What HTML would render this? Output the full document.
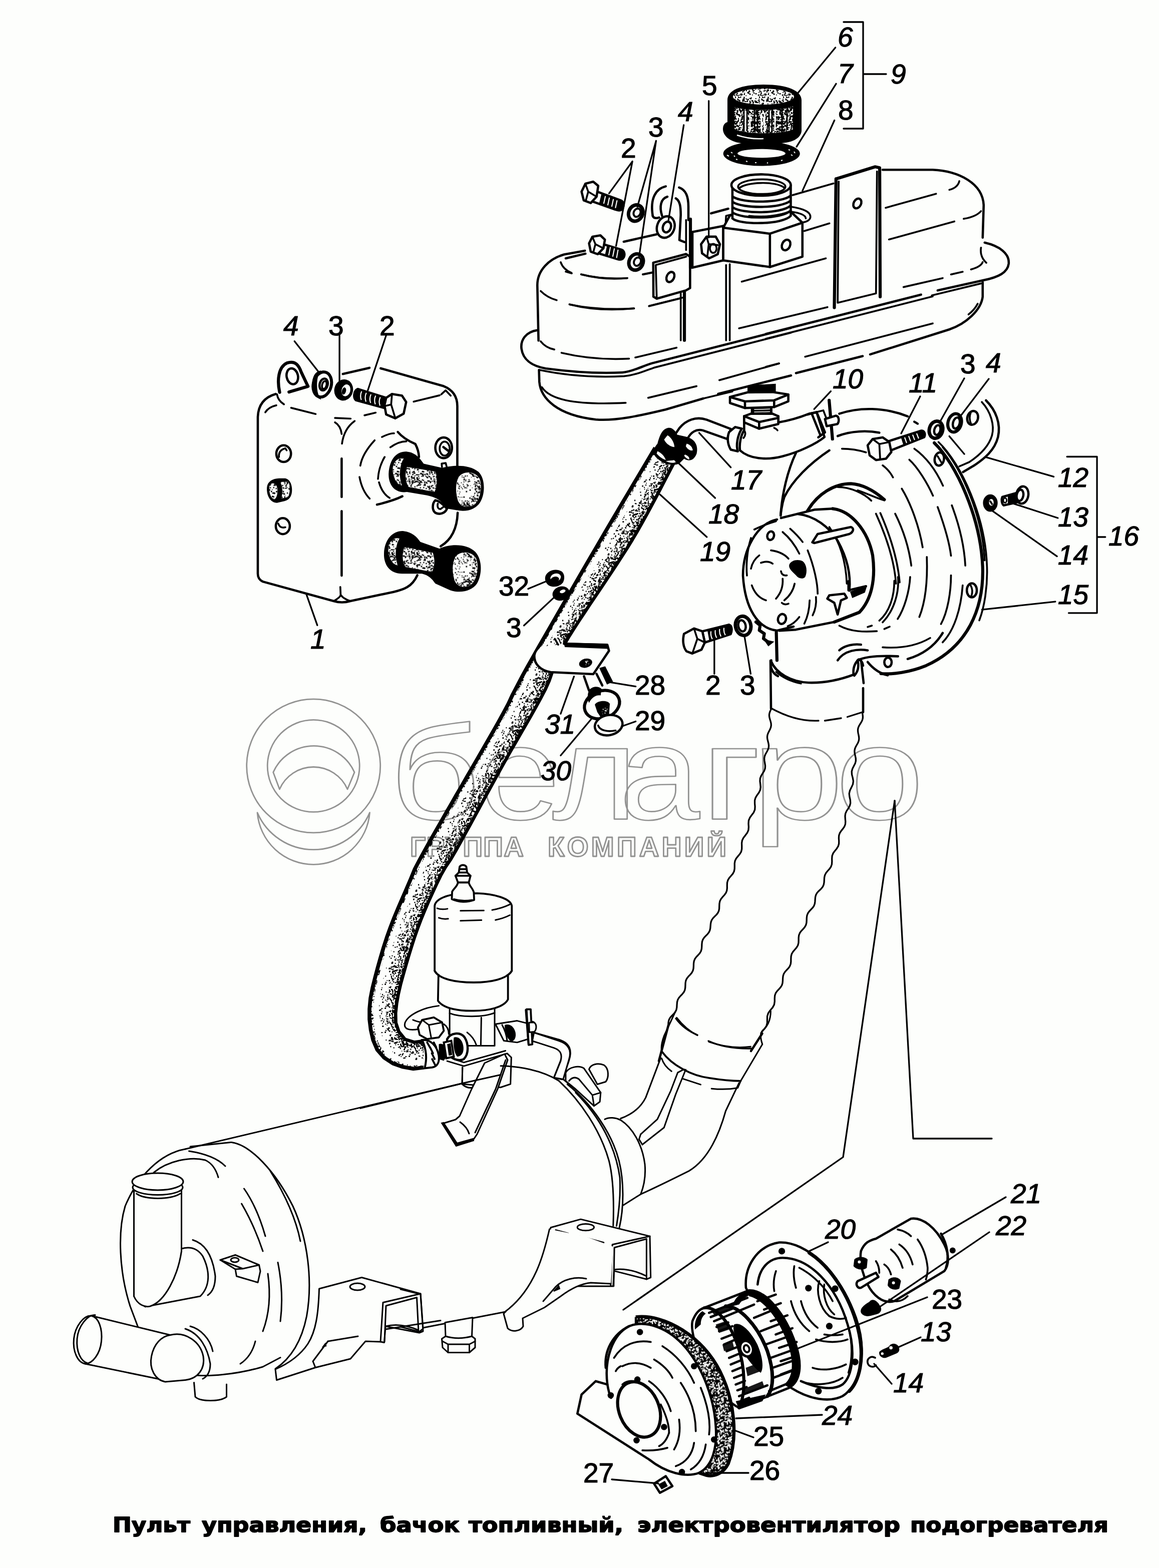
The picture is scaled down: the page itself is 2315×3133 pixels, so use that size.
<!DOCTYPE html>
<html lang="ru"><head><meta charset="utf-8"><title>Пульт управления, бачок топливный, электровентилятор подогревателя</title>
<style>
html,body{margin:0;padding:0;background:#fdfefc;}
body{width:2315px;height:3133px;overflow:hidden;position:relative;}
svg{position:absolute;left:0;top:0;display:block;}
svg *{vector-effect:non-scaling-stroke;}
.k{fill:none;stroke:#000;stroke-width:4.6;stroke-linecap:round;stroke-linejoin:round;}
.h{fill:none;stroke:#000;stroke-width:6.2;stroke-linecap:round;stroke-linejoin:round;}
.m{fill:none;stroke:#000;stroke-width:3.7;stroke-linecap:round;stroke-linejoin:round;}
.n{fill:none;stroke:#000;stroke-width:3.3;stroke-linecap:round;stroke-linejoin:round;}
.t{fill:none;stroke:#000;stroke-width:3.3;stroke-linecap:round;stroke-linejoin:round;}
.lbl text.u{font-style:normal;}
.w{fill:#fdfefc;}
#heaterR .m,#heaterL .m,#heaterB .m,#pump .m,#pumpleg .m{stroke-width:3.0;}
#heaterR .k,#heaterL .k,#pump .k{stroke-width:3.8;}
#corr .m{stroke-width:3.3;}
.b{fill:#000;}
.lbl text{font-family:"Liberation Sans",Arial,sans-serif;font-style:italic;font-size:55px;fill:#000;stroke:#000;stroke-width:1.2;}
.cap{font-family:"DejaVu Sans",Verdana,sans-serif;font-weight:bold;fill:#000;}
.wm{fill:none;stroke:#c8c8c8;stroke-width:3;stroke-linejoin:round;stroke-linecap:round;}
</style></head>
<body>
<svg width="2315" height="3133" viewBox="0 0 2315 3133">
<!-- 00_defs.svg -->
<defs><pattern id="st1" width="150" height="150" patternUnits="userSpaceOnUse"><path d="M49,23h7v7h-7zM11,80h5v5h-5zM9,76h4v4h-4zM65,10h4v4h-4zM64,124h4v4h-4zM33,94h8v8h-8zM87,60h8v8h-8zM7,129h5v5h-5zM22,18h5v5h-5zM122,27h6v6h-6zM96,56h6v6h-6zM9,9h5v5h-5zM102,64h5v5h-5zM88,68h5v5h-5zM119,105h5v5h-5zM86,79h8v8h-8zM109,43h8v8h-8zM18,63h7v7h-7zM23,73h4v4h-4zM100,115h6v6h-6zM131,47h7v7h-7zM89,87h6v6h-6zM126,142h6v6h-6zM100,9h7v7h-7zM97,149h7v7h-7zM43,58h7v7h-7zM3,69h5v5h-5zM18,9h7v7h-7zM19,37h6v6h-6zM131,12h6v6h-6zM82,133h7v7h-7zM130,42h6v6h-6zM54,133h8v8h-8zM23,26h5v5h-5zM35,73h6v6h-6zM39,1h6v6h-6zM55,85h8v8h-8zM104,77h6v6h-6zM101,8h8v8h-8zM117,131h7v7h-7zM59,60h4v4h-4zM95,9h4v4h-4zM31,24h5v5h-5zM8,0h5v5h-5zM15,55h4v4h-4zM131,92h5v5h-5zM38,52h5v5h-5zM18,127h8v8h-8zM70,73h4v4h-4zM15,51h5v5h-5zM124,24h4v4h-4zM143,79h5v5h-5zM81,4h6v6h-6zM147,129h7v7h-7zM39,55h5v5h-5zM116,80h7v7h-7zM49,33h7v7h-7zM148,128h7v7h-7zM123,111h5v5h-5zM78,53h4v4h-4zM4,42h5v5h-5zM104,143h6v6h-6zM141,148h8v8h-8zM55,33h5v5h-5zM30,31h6v6h-6zM135,126h6v6h-6zM98,120h4v4h-4zM99,136h7v7h-7zM113,72h5v5h-5zM118,50h7v7h-7zM146,59h6v6h-6zM142,109h5v5h-5zM19,23h8v8h-8zM121,22h7v7h-7zM147,99h5v5h-5zM82,20h4v4h-4zM146,97h6v6h-6zM140,65h7v7h-7zM124,32h5v5h-5zM44,36h6v6h-6zM39,63h5v5h-5zM137,53h6v6h-6zM88,136h6v6h-6zM138,75h6v6h-6zM79,3h6v6h-6zM27,1h7v7h-7zM26,71h7v7h-7zM83,49h6v6h-6zM83,118h4v4h-4zM84,37h5v5h-5z" fill="#000"/></pattern><pattern id="st2" width="150" height="150" patternUnits="userSpaceOnUse"><path d="M116,76h7v7h-7zM114,137h7v7h-7zM92,76h7v7h-7zM104,68h7v7h-7zM72,141h8v8h-8zM131,141h6v6h-6zM84,141h8v8h-8zM21,18h7v7h-7zM11,36h5v5h-5zM100,118h9v9h-9zM23,107h8v8h-8zM21,132h9v9h-9zM33,143h7v7h-7zM73,148h8v8h-8zM24,65h7v7h-7zM51,29h6v6h-6zM108,3h7v7h-7zM66,3h6v6h-6zM94,77h5v5h-5zM148,118h9v9h-9zM16,40h5v5h-5zM117,41h6v6h-6zM63,137h8v8h-8zM39,22h9v9h-9zM86,105h5v5h-5zM9,103h7v7h-7zM11,141h8v8h-8zM120,13h8v8h-8zM10,129h7v7h-7zM51,83h9v9h-9zM40,19h7v7h-7zM36,16h6v6h-6zM8,30h6v6h-6zM46,114h6v6h-6zM75,27h6v6h-6zM3,38h5v5h-5zM110,83h6v6h-6zM71,140h5v5h-5zM123,65h7v7h-7zM125,59h7v7h-7zM103,147h6v6h-6zM125,106h8v8h-8zM61,52h5v5h-5zM19,11h8v8h-8zM38,24h5v5h-5zM126,131h8v8h-8zM42,36h6v6h-6zM69,24h7v7h-7zM39,144h9v9h-9zM82,37h9v9h-9zM46,53h5v5h-5zM57,71h7v7h-7zM30,76h5v5h-5zM40,13h7v7h-7zM6,3h6v6h-6zM35,88h7v7h-7zM113,99h8v8h-8zM132,58h6v6h-6zM148,22h8v8h-8zM96,7h8v8h-8zM134,94h8v8h-8zM122,21h7v7h-7zM76,125h8v8h-8zM124,88h9v9h-9zM102,104h6v6h-6zM5,20h6v6h-6zM16,125h7v7h-7zM94,94h8v8h-8zM73,0h8v8h-8zM112,75h7v7h-7zM99,10h8v8h-8zM38,11h6v6h-6zM109,31h8v8h-8zM146,74h7v7h-7zM72,103h8v8h-8zM93,96h5v5h-5zM22,38h8v8h-8zM46,85h5v5h-5zM9,40h8v8h-8zM104,101h6v6h-6zM77,70h7v7h-7zM18,134h6v6h-6zM147,140h5v5h-5zM69,123h9v9h-9zM67,40h6v6h-6zM142,32h7v7h-7zM21,79h9v9h-9zM20,123h7v7h-7zM133,106h6v6h-6zM135,73h5v5h-5zM1,74h7v7h-7zM45,21h6v6h-6zM47,126h5v5h-5zM113,126h5v5h-5zM139,107h9v9h-9zM43,56h7v7h-7zM150,88h6v6h-6zM64,41h5v5h-5zM15,125h6v6h-6zM140,37h6v6h-6zM77,28h6v6h-6zM143,133h8v8h-8zM95,137h9v9h-9zM82,108h5v5h-5zM110,68h8v8h-8zM97,43h5v5h-5zM139,19h7v7h-7zM52,45h8v8h-8zM146,39h8v8h-8zM45,84h7v7h-7zM25,24h6v6h-6zM136,75h6v6h-6zM136,149h7v7h-7zM21,29h5v5h-5zM51,14h6v6h-6zM39,85h9v9h-9zM112,62h7v7h-7zM79,57h6v6h-6zM9,42h9v9h-9zM19,76h8v8h-8zM129,32h6v6h-6zM37,60h7v7h-7zM143,127h8v8h-8zM3,5h8v8h-8zM134,71h7v7h-7zM0,59h9v9h-9zM124,128h9v9h-9zM37,16h6v6h-6zM78,102h9v9h-9zM108,97h8v8h-8zM69,83h5v5h-5zM117,35h9v9h-9zM97,46h6v6h-6zM38,95h8v8h-8zM17,11h7v7h-7zM87,58h6v6h-6zM90,2h6v6h-6zM69,144h8v8h-8zM133,71h6v6h-6zM37,144h8v8h-8zM46,3h7v7h-7zM101,63h6v6h-6zM100,139h6v6h-6zM5,51h7v7h-7zM102,30h8v8h-8zM111,76h6v6h-6zM145,47h8v8h-8zM35,33h8v8h-8zM44,143h7v7h-7zM28,33h7v7h-7zM100,142h6v6h-6zM59,32h9v9h-9zM21,8h5v5h-5zM59,135h9v9h-9zM110,150h9v9h-9zM49,28h9v9h-9zM112,5h8v8h-8zM57,56h6v6h-6zM25,0h6v6h-6zM53,143h5v5h-5zM145,31h6v6h-6zM123,123h7v7h-7zM7,71h6v6h-6zM138,29h6v6h-6zM135,5h7v7h-7zM122,115h5v5h-5zM5,9h9v9h-9zM39,112h9v9h-9zM51,41h9v9h-9zM93,39h8v8h-8zM47,41h5v5h-5zM113,137h8v8h-8zM141,4h6v6h-6zM71,144h9v9h-9zM58,38h7v7h-7zM74,139h6v6h-6zM120,111h8v8h-8zM116,91h6v6h-6zM48,54h8v8h-8zM12,30h8v8h-8zM37,10h5v5h-5zM83,49h9v9h-9zM133,148h6v6h-6zM13,14h7v7h-7zM106,67h6v6h-6zM63,93h8v8h-8zM112,127h8v8h-8zM18,126h6v6h-6zM85,56h8v8h-8zM30,37h6v6h-6z" fill="#000"/></pattern><pattern id="stw" width="150" height="150" patternUnits="userSpaceOnUse"><path d="M23,133h6v6h-6zM49,59h7v7h-7zM76,35h6v6h-6zM98,149h4v4h-4zM71,123h7v7h-7zM137,6h5v5h-5zM18,28h7v7h-7zM87,140h5v5h-5zM130,67h5v5h-5zM117,142h4v4h-4zM89,93h5v5h-5zM55,21h5v5h-5zM38,90h6v6h-6zM31,2h5v5h-5zM102,28h5v5h-5zM31,119h6v6h-6zM9,15h5v5h-5zM83,96h4v4h-4zM25,104h5v5h-5zM42,46h7v7h-7zM47,85h5v5h-5zM62,130h7v7h-7zM55,30h6v6h-6zM31,1h7v7h-7zM64,123h5v5h-5zM132,69h4v4h-4zM2,83h6v6h-6zM136,13h6v6h-6zM56,76h4v4h-4zM42,78h7v7h-7zM16,74h6v6h-6zM145,30h4v4h-4zM141,146h5v5h-5zM8,139h5v5h-5zM136,93h6v6h-6zM24,118h5v5h-5zM61,127h6v6h-6zM27,33h5v5h-5zM78,58h4v4h-4zM37,109h7v7h-7zM6,84h6v6h-6zM6,126h4v4h-4zM90,83h6v6h-6zM46,63h6v6h-6zM64,99h5v5h-5zM66,4h6v6h-6zM73,35h6v6h-6zM117,69h5v5h-5zM71,16h4v4h-4zM65,14h5v5h-5zM77,6h6v6h-6zM12,110h6v6h-6zM77,8h6v6h-6zM57,143h4v4h-4zM129,149h6v6h-6zM122,29h7v7h-7zM74,143h7v7h-7zM25,118h7v7h-7zM10,53h6v6h-6zM24,134h5v5h-5zM122,22h6v6h-6zM138,31h5v5h-5zM76,48h4v4h-4zM27,24h7v7h-7zM102,134h5v5h-5zM118,17h6v6h-6zM95,54h7v7h-7zM83,87h7v7h-7zM16,149h6v6h-6zM59,120h5v5h-5z" fill="#fdfefc"/></pattern><pattern id="stw2" width="150" height="150" patternUnits="userSpaceOnUse"><path d="M68,84h10v7h-10zM76,88h6v8h-6zM94,119h5v7h-5zM14,121h8v5h-8zM147,145h8v8h-8zM24,2h8v5h-8zM29,36h5v7h-5zM66,126h8v8h-8zM75,99h7v6h-7zM150,149h9v9h-9zM47,34h6v5h-6zM115,60h9v7h-9zM144,127h5v6h-5zM137,70h10v7h-10zM11,94h9v6h-9zM13,50h10v9h-10zM18,37h6v5h-6zM120,27h8v7h-8zM29,110h6v8h-6zM17,63h6v6h-6zM146,121h7v9h-7zM32,59h9v8h-9zM15,148h6v6h-6zM116,49h6v5h-6zM14,87h6v8h-6zM56,68h10v7h-10zM86,130h6v6h-6zM136,123h6v6h-6zM111,141h6v10h-6zM132,91h7v6h-7zM6,144h6v9h-6zM39,124h8v6h-8zM26,108h5v6h-5zM84,128h8v6h-8zM138,31h5v6h-5zM67,9h6v7h-6zM86,20h7v9h-7zM147,99h8v8h-8zM21,5h5v10h-5zM105,144h5v8h-5zM72,110h7v10h-7zM11,82h9v10h-9zM111,106h9v10h-9zM53,103h10v9h-10zM63,119h9v8h-9zM94,57h8v8h-8zM12,96h10v9h-10zM109,58h9v8h-9zM66,126h5v9h-5zM4,90h7v6h-7zM105,75h8v10h-8zM38,2h7v8h-7zM30,25h10v8h-10zM66,134h7v8h-7zM30,65h9v10h-9zM132,58h8v7h-8zM20,74h9v9h-9zM107,143h6v6h-6zM68,41h6v7h-6zM94,74h7v9h-7zM147,68h5v5h-5zM131,6h9v8h-9zM46,119h5v6h-5zM68,4h9v6h-9zM21,7h8v7h-8zM94,98h9v10h-9zM103,30h7v6h-7zM2,71h9v6h-9zM41,52h8v8h-8zM92,113h7v9h-7zM136,13h10v9h-10zM19,68h8v10h-8zM57,85h9v9h-9zM142,70h8v6h-8zM108,123h8v9h-8zM32,135h10v10h-10zM81,119h7v10h-7zM128,52h5v7h-5zM83,115h7v5h-7zM121,10h9v6h-9zM50,118h6v6h-6zM77,109h9v8h-9zM142,74h10v5h-10zM33,79h6v9h-6zM96,78h9v8h-9zM47,57h9v10h-9zM31,128h10v8h-10zM86,30h8v8h-8zM91,4h10v8h-10zM60,120h8v7h-8zM104,10h8v7h-8zM144,139h6v7h-6zM19,65h9v10h-9zM71,48h6v8h-6zM139,19h9v5h-9zM29,34h8v7h-8zM53,93h6v9h-6zM18,77h6v6h-6zM80,66h7v7h-7zM79,24h6v8h-6zM96,79h9v8h-9zM129,35h9v9h-9zM135,47h7v10h-7zM33,150h9v6h-9zM36,109h6v5h-6zM125,63h9v6h-9zM60,103h5v6h-5zM102,137h10v6h-10zM76,114h8v8h-8zM28,11h6v5h-6zM83,77h8v6h-8zM28,31h9v10h-9zM139,14h5v10h-5zM69,115h7v7h-7zM77,65h8v5h-8zM105,127h6v7h-6zM111,61h6v6h-6zM77,2h9v9h-9zM106,129h8v7h-8zM90,76h10v9h-10zM39,137h9v9h-9zM122,61h9v9h-9zM104,115h9v7h-9zM108,11h7v7h-7zM2,53h8v8h-8zM35,142h8v7h-8zM99,85h8v7h-8zM150,96h9v9h-9zM147,3h8v9h-8zM38,60h5v6h-5zM56,15h6v10h-6zM83,76h10v8h-10zM149,96h9v5h-9zM90,114h5v10h-5zM24,71h6v7h-6zM92,9h10v7h-10zM79,90h7v6h-7zM98,84h6v9h-6zM44,2h6v5h-6zM23,113h7v9h-7zM112,8h10v10h-10zM11,136h7v7h-7zM146,37h8v10h-8zM108,70h10v9h-10zM91,17h8v7h-8zM31,8h8v6h-8zM66,100h7v6h-7zM87,63h9v8h-9zM150,143h9v6h-9zM17,134h9v8h-9zM54,41h8v8h-8zM89,95h9v6h-9zM37,147h10v9h-10zM6,9h6v7h-6zM94,15h8v5h-8zM13,101h8v8h-8zM56,72h6v7h-6zM112,126h5v6h-5zM121,94h9v6h-9zM64,39h9v7h-9zM98,148h7v8h-7zM112,138h7v7h-7zM15,131h5v5h-5zM85,73h8v6h-8zM116,11h6v8h-6zM12,46h9v8h-9zM42,21h7v9h-7zM55,18h9v8h-9zM138,141h10v7h-10zM120,46h7v7h-7zM140,134h6v7h-6zM55,54h7v7h-7zM29,85h9v8h-9zM125,84h6v9h-6zM132,42h5v8h-5zM82,85h10v8h-10zM121,10h8v9h-8zM13,12h9v9h-9zM13,95h6v9h-6zM97,37h6v9h-6zM78,115h7v7h-7zM145,101h7v8h-7zM108,106h10v7h-10zM124,100h9v9h-9zM125,133h10v8h-10zM79,107h9v7h-9zM63,22h9v10h-9zM56,25h6v7h-6zM44,145h5v7h-5zM17,97h9v6h-9zM9,69h8v10h-8zM5,16h6v6h-6zM35,108h8v6h-8zM28,42h6v9h-6zM47,82h9v7h-9zM39,133h10v7h-10zM82,144h7v6h-7zM7,142h9v7h-9zM79,77h6v10h-6zM99,36h5v7h-5zM56,120h9v8h-9zM24,24h7v6h-7zM130,77h8v10h-8zM40,80h6v9h-6zM0,123h9v9h-9zM12,40h9v5h-9zM72,70h10v8h-10zM129,46h9v7h-9zM138,14h9v6h-9zM82,79h6v9h-6zM47,47h5v7h-5zM70,107h7v8h-7zM16,59h7v10h-7zM124,98h5v7h-5zM107,36h8v7h-8zM2,149h9v6h-9zM92,44h7v8h-7zM45,51h7v8h-7zM38,30h9v7h-9zM142,84h9v7h-9zM124,14h6v5h-6zM102,106h6v7h-6zM126,89h5v6h-5zM24,19h7v5h-7zM138,64h8v8h-8zM115,123h7v7h-7zM62,2h7v8h-7zM147,118h8v8h-8zM3,50h7v8h-7zM16,57h8v9h-8z" fill="#fdfefc"/></pattern></defs>
<!-- 10_tank.svg -->
<g id="tankL" transform="translate(1030,430) scale(0.33293)">
<!-- upper body, left dome -->
<path class="k" d="M137,752 L130,420 C130,330 200,262 290,236 L415,213"/>
<path class="m" d="M270,282 Q285,325 335,346"/>
<path class="m" d="M150,455 Q190,495 246,510"/>
<path class="m" d="M150,757 Q180,795 232,806"/>
<path class="m" d="M395,356 Q520,386 668,378"/>
<path class="m" d="M325,536 Q500,572 710,560"/>
<path class="m" d="M275,826 Q470,872 680,861"/>
<path class="m" d="M718,854 L965,795"/>
<path class="m" d="M800,546 L985,500"/>
<path class="m" d="M765,356 L825,344"/>
<!-- flange -->
<path class="k" d="M130,690 C60,700 28,750 35,802 C45,872 100,905 180,920 C330,940 480,952 640,944 C700,940 760,905 820,888 L1652,676"/>
<path class="m" d="M140,928 C300,962 480,975 650,966 C720,960 780,932 830,915 L1652,705"/>
<!-- lower body -->
<path class="k" d="M140,930 L142,1000 C150,1100 250,1200 480,1226 C600,1236 750,1202 900,1166 L1125,1100"/>
<path class="m" d="M157,1032 C200,1100 330,1142 660,1126"/>
<path class="m" d="M795,1096 L1085,1026"/>
<path class="m" d="M1222,990 L1580,890"/>
<path class="k" d="M1215,1072 L1652,962"/>
<path class="m" d="M1125,1100 L1300,1058"/>
</g>
<g id="tankR" transform="translate(1530,300) scale(0.33293)">
<path class="k" d="M700,118 L1000,118 C1160,126 1300,200 1306,330 L1300,525"/>
<path class="m" d="M1100,238 Q1150,226 1160,186"/>
<path class="m" d="M1186,412 Q1260,400 1290,366"/>
<path class="m" d="M718,346 L1020,262"/>
<path class="m" d="M738,536 L1130,428"/>
<path class="m" d="M160,270 L405,200"/>
<!-- strap -->
<path class="h" d="M422,172 L655,100 L682,106 L685,880"/>
<path class="h" d="M420,172 L410,945"/>
<path class="m" d="M436,188 L430,916 L660,860 L666,128"/>
<ellipse class="k" cx="548" cy="320" rx="22" ry="31" transform="rotate(28 548 320)"/>
<!-- flange right -->
<path class="k" d="M1312,555 C1400,575 1462,620 1456,682 C1450,732 1400,762 1300,782 L1030,842"/>
<path class="m" d="M1290,585 Q1282,640 1322,676"/>
<path class="m" d="M1230,716 Q1290,700 1300,672"/>
<path class="m" d="M1110,746 L1180,730"/>
<path class="m" d="M825,822 L1060,768"/>
<path class="m" d="M995,872 L1290,800"/>
<path class="k" d="M930,867 L0,1103"/>
<path class="m" d="M1000,878 L0,1132"/>
<!-- lower body right -->
<path class="k" d="M1300,792 L1300,880 C1290,960 1200,1042 1100,1076 L625,1226"/>
<path class="m" d="M1270,922 Q1250,960 1215,986"/>
<path class="m" d="M1000,1040 L235,1240"/>
<path class="k" d="M580,1236 L180,1338"/>
<path class="m" d="M0,1300 L78,1280"/>
</g>
<!-- 11_tanktop.svg -->
<g id="tanktop" transform="translate(1130,130) scale(0.33293)">
<!-- back edge of tank top and highlights -->
<path class="k" d="M872,890 L975,862"/>
<path class="k" d="M348,1060 L545,1016"/>
<path class="k" d="M0,1160 L118,1132"/>
<path class="m" d="M92,1256 Q230,1292 370,1278"/>
<path class="m" d="M462,1256 L522,1244"/>
<path class="m" d="M22,1436 Q200,1482 410,1460"/>
<path class="m" d="M500,1446 L700,1396"/>
<path class="m" d="M1056,1300 L1560,1160"/>
<path class="m" d="M1432,996 L1582,950"/>
<path class="m" d="M1040,1580 L1570,1453"/>
<path class="m" d="M0,1240 L36,1250"/>
<!-- vertical strap (front face) -->
<path class="h" d="M712,1350 L712,1652"/>
<path class="m" d="M690,1370 L690,1652"/>
<path class="m" d="M962,1200 L962,1652"/>
<path class="m" d="M984,1195 L984,1652"/>
<!-- left plate -->
<path class="k w" d="M525,1186 L722,1134 L746,1150 L746,1338 L722,1352 L546,1402 L526,1390 Z"/>
<path class="m" d="M546,1402 L540,1200 L722,1150"/>
<ellipse class="k" cx="628" cy="1272" rx="22" ry="32" transform="rotate(25 628 1272)"/>
<!-- horizontal strap to clamp -->
<path class="k w" d="M760,1002 L945,966 L945,1172 L760,1216 Z"/>
<path class="h" d="M748,925 L748,1216"/>
<path class="m" d="M722,930 L722,1110"/>
<!-- clamp box -->
<path class="k w" d="M945,976 L985,902 L1350,880 L1420,946 L1420,1150 L1225,1212 L945,1172 Z"/>
<path class="k" d="M945,976 L1225,1012 L1420,946"/>
<path class="k" d="M1225,1012 L1225,1212"/>
<ellipse class="k" cx="1322" cy="1080" rx="24" ry="33" transform="rotate(25 1322 1080)"/>
<path class="m" d="M1350,850 C1420,860 1470,880 1468,912 C1466,930 1445,940 1425,944"/>
<path class="m" d="M1352,880 C1400,886 1440,900 1440,920"/>
<path class="m" d="M960,940 L962,905 L990,898"/>
<!-- neck -->
<path class="k w" d="M1000,720 L1000,920 C1040,960 1300,960 1350,905 L1350,720 Z"/>
<ellipse class="k w" cx="1172" cy="720" rx="178" ry="64"/>
<ellipse class="m" cx="1176" cy="730" rx="142" ry="44"/>
<path class="m" d="M1040,740 C1080,700 1260,695 1310,735"/>
<path class="k" d="M1002,790 C1060,830 1290,830 1348,785"/>
<path class="k" d="M1002,822 C1060,862 1290,862 1348,815"/>
<path class="k" d="M1002,854 C1060,894 1290,894 1348,845"/>
<path class="k" d="M1002,886 C1060,926 1290,926 1348,875"/>
<path class="m" d="M1100,905 C1180,915 1280,905 1340,880"/>
<!-- nut 5 -->
<path class="k w" d="M812,1075 L845,1030 L900,1030 L925,1075 L912,1135 L860,1160 L818,1130 Z"/>
<path class="m" d="M845,1030 L858,1075 L912,1080 M858,1075 L850,1145"/>
<ellipse class="m" cx="885" cy="1100" rx="20" ry="27"/>
<!-- clip (lug) -->
<path class="k" d="M522,905 C505,800 540,742 600,728"/>
<path class="k" d="M680,735 C722,750 736,790 736,850 L736,930"/>
<path class="k" d="M578,905 C560,850 570,802 610,790"/>
<path class="k" d="M660,800 C686,815 690,850 690,900 L682,1050 L712,1062"/>
<path class="k" d="M522,905 Q530,925 560,915"/>
<!-- washer 4 -->
<ellipse class="k w" cx="600" cy="972" rx="52" ry="66" transform="rotate(20 600 972)"/>
<ellipse class="k" cx="607" cy="972" rx="24" ry="33" transform="rotate(20 607 972)"/>
<!-- washers 3 -->
<ellipse cx="420" cy="888" rx="42" ry="50" fill="#fdfefc" stroke="#000" stroke-width="7" transform="rotate(25 420 888)"/>
<ellipse cx="428" cy="886" rx="20" ry="26" fill="none" stroke="#000" stroke-width="4" transform="rotate(25 428 886)"/>
<ellipse cx="422" cy="1182" rx="42" ry="50" fill="#fdfefc" stroke="#000" stroke-width="7" transform="rotate(25 422 1182)"/>
<ellipse cx="430" cy="1180" rx="20" ry="26" fill="none" stroke="#000" stroke-width="4" transform="rotate(25 430 1180)"/>
<!-- bolts 2 -->
<g id="bolt2a">
<path class="k w" d="M168,752 L330,812 C350,820 352,850 335,868 C325,876 310,872 300,868 L150,815 Z"/>
<path class="k w" d="M95,760 L118,712 L165,700 L195,725 L185,790 L150,828 L108,812 Z"/>
<path class="m" d="M118,712 L135,760 L185,790 M135,760 L120,815"/>
<path d="M215,770 L330,812 C350,820 352,850 335,868 C325,876 310,872 300,868 L200,833 Z" fill="#000"/>
<path d="M238,786 L228,832 M262,795 L252,842 M286,804 L276,850 M308,812 L298,858" stroke="#fdfefc" stroke-width="2.2" fill="none"/>
</g>
<g id="bolt2b">
<path class="k w" d="M200,1068 L335,1108 C355,1116 358,1145 342,1162 C332,1170 318,1168 308,1164 L180,1125 Z"/>
<path class="k w" d="M140,1070 L160,1030 L208,1022 L235,1048 L226,1100 L192,1135 L150,1120 Z"/>
<path class="m" d="M160,1030 L178,1075 L226,1100 M178,1075 L165,1125"/>
<path d="M248,1082 L335,1108 C355,1116 358,1145 342,1162 C332,1170 318,1168 308,1164 L235,1142 Z" fill="#000"/>
<path d="M268,1092 L258,1142 M292,1100 L282,1150 M314,1108 L305,1158" stroke="#fdfefc" stroke-width="2.2" fill="none"/>
</g>
<!-- leaders -->
<path class="n" d="M858,215 L858,1035"/>
<path class="n" d="M708,360 L615,940"/>
<path class="n" d="M542,455 L430,850 M542,455 L440,1150"/>
<path class="n" d="M400,578 L260,770 M400,578 L302,1085"/>
<path class="n" d="M1618,-105 L1395,165"/>
<path class="n" d="M1622,112 L1385,490"/>
<path class="n" d="M1612,332 L1420,755"/>
</g>
<!-- 12_cap.svg -->
<g id="cap6">
<!-- ring 7 -->
<path d="M1444.6,307 A76.6,24.6 0 1 0 1597.8,307 A76.6,24.6 0 1 0 1444.6,307 Z M1473,306.5 A48,8.7 0 1 1 1569,306.5 A48,8.7 0 1 1 1473,306.5 Z" fill="#000" fill-rule="evenodd"/>
<path d="M1452,310 L1456,312 M1460,304 L1463,306 M1470,318 L1473,319 M1490,322 L1493,323 M1508,325 L1511,325 M1532,326 L1534,325 M1560,321 L1563,320 M1580,309 L1583,311 M1586,303 L1588,306 M1575,299 L1578,300 M1466,311 L1468,313" stroke="#fdfefc" stroke-width="2" fill="none"/>
<!-- cap -->
<path d="M1453,200 C1453,180 1480,169 1525,169 C1575,169 1601,182 1601,200 L1601,262 C1599,278 1580,285 1560,286 L1480,286 C1456,283 1444,270 1444,258 C1444,250 1448,245 1453,244 Z" fill="#000"/>
<ellipse cx="1525" cy="193" rx="61" ry="16" fill="#fdfefc"/>
<ellipse cx="1525" cy="193" rx="61" ry="16" fill="url(#s2)"/>
<path d="M1467,214 C1490,222 1560,222 1584,212 L1584,258 C1570,268 1490,270 1467,258 Z" fill="#fdfefc"/>
<path d="M1467,214 C1490,222 1560,222 1584,212 L1584,258 C1570,268 1490,270 1467,258 Z" fill="url(#s3)"/>
<path d="M1486,216 L1486,260 M1492,218 L1492,262 M1507,218 L1507,264 M1513,220 L1513,264 M1536,220 L1536,264 M1542,218 L1542,263 M1562,216 L1562,262 M1572,214 L1572,258" stroke="#000" stroke-width="3" fill="none"/>
<path d="M1489,222 L1489,258 M1498,226 L1498,262 M1521,226 L1521,264 M1527,226 L1527,264 M1548,224 L1548,262" stroke="#fdfefc" stroke-width="3" fill="none"/>
<path d="M1472,270 C1490,276 1510,278 1525,277" stroke="#fdfefc" stroke-width="2.5" fill="none"/>
</g>
<!-- 20_panel.svg -->
<g id="panel" transform="translate(470,700) scale(0.33293)">
<!-- box outline -->
<path class="k" d="M242,262 C180,280 138,320 135,400 L135,1340 C135,1362 145,1378 165,1388 L590,1505 Q640,1520 690,1505 L950,1450 C1010,1436 1060,1420 1092,1350"/>
<path class="k" d="M872,108 L1250,215 C1312,240 1332,285 1332,335 L1332,700"/>
<path class="k" d="M1334,975 C1330,1080 1292,1140 1232,1176"/>
<path class="k" d="M645,142 L805,105"/>
<!-- top face front edge -->
<path class="m" d="M180,372 Q200,340 246,330"/>
<path class="m" d="M250,264 Q256,302 292,324"/>
<path class="m" d="M335,345 L482,382"/>
<path class="m" d="M775,390 L842,374"/>
<path class="m" d="M1070,308 L1226,270"/>
<path class="m" d="M1236,264 L1262,240 L1292,272"/>
<!-- front vertical edge -->
<path class="m" d="M598,406 L692,410"/>
<path class="m" d="M598,432 Q632,452 638,502"/>
<path class="m" d="M716,424 Q652,470 640,560"/>
<path class="k" d="M638,650 L638,880 M638,965 L638,1352"/>
<path class="m" d="M630,1420 L632,1468 Q630,1482 592,1504 M634,1470 Q650,1492 690,1505"/>
<!-- left face holes -->
<ellipse class="k" cx="290" cy="620" rx="44" ry="50"/>
<path class="m" d="M262,640 Q258,600 300,588 L308,600"/>
<ellipse class="k" cx="285" cy="1055" rx="42" ry="48"/>
<path class="m" d="M258,1040 Q268,1070 300,1062"/>
<!-- small knob on left face -->
<path d="M190,820 C195,785 225,770 262,768 L300,768 C330,775 342,810 340,845 C338,880 320,900 295,905 L250,915 C210,915 185,870 190,820Z" fill="#000"/>
<path d="M205,815 C215,790 240,795 250,820 C258,850 250,885 235,895 C212,890 200,850 205,815Z" fill="#fdfefc"/>
<path d="M205,815 C215,790 240,795 250,820 C258,850 250,885 235,895 C212,890 200,850 205,815Z" fill="url(#st2)"/>
<path d="M270,790 L318,788 C330,810 330,850 318,880 L275,890 C285,860 285,820 270,790Z" fill="#fdfefc"/>
<path d="M270,790 L318,788 C330,810 330,850 318,880 L275,890 C285,860 285,820 270,790Z" fill="url(#st2)"/>
<!-- right face dashed circles -->
<path class="m" d="M836,540 Q762,620 750,692"/>
<path class="m" d="M745,760 Q760,842 806,890"/>
<path class="m" d="M880,520 Q930,496 952,498"/>
<path class="k" d="M975,490 Q1010,532 1080,562 Q1100,600 1102,640"/>
<path class="k" d="M850,926 Q950,902 1002,876"/>
<path class="m" d="M930,582 Q980,546 1026,546"/>
<path class="m" d="M896,640 Q860,700 856,772"/>
<path class="m" d="M862,792 Q882,860 926,886"/>
<!-- screw -->
<ellipse class="k" cx="1250" cy="585" rx="50" ry="62"/>
<ellipse class="m" cx="1256" cy="590" rx="30" ry="42"/>
<path class="k" d="M1248,580 L1276,602"/>
<!-- lug -->
<path class="h w" d="M266,252 C250,180 258,100 310,76 C362,60 382,92 396,132 L436,216 L322,250"/>
<ellipse class="k" cx="342" cy="156" rx="34" ry="48" transform="rotate(-12 342 156)"/>
<!-- washer 4 -->
<ellipse cx="522" cy="205" rx="54" ry="76" fill="#fdfefc" stroke="#000" stroke-width="6" transform="rotate(14 522 205)"/>
<path d="M500,132 C455,150 455,260 500,282 C480,250 478,170 500,132Z" fill="#000" stroke="#000" stroke-width="4"/>
<ellipse class="k" cx="530" cy="205" rx="24" ry="36" transform="rotate(14 530 205)"/>
<ellipse class="m" cx="534" cy="208" rx="13" ry="24" transform="rotate(14 534 208)"/>
<!-- washer 3 -->
<ellipse cx="650" cy="238" rx="50" ry="58" fill="#000" stroke="#000" stroke-width="4" transform="rotate(14 650 238)"/>
<ellipse cx="664" cy="240" rx="26" ry="36" fill="#fdfefc" transform="rotate(14 664 240)"/>
<ellipse cx="652" cy="244" rx="12" ry="22" fill="#000" transform="rotate(14 652 244)"/>
<!-- bolt 2 -->
<path class="k w" d="M735,232 L905,285 L890,345 L725,300 C705,285 712,240 735,232Z"/>
<path d="M735,232 L905,285 L890,345 L725,300 C705,285 712,240 735,232Z" fill="#000"/>
<path d="M758,246 Q746,272 756,298 M786,255 Q774,282 784,308 M814,264 Q802,290 812,316 M842,272 Q830,298 840,324 M870,281 Q858,306 868,332" stroke="#fdfefc" stroke-width="2.2" fill="none"/>
<path class="k w" d="M905,285 L940,262 L1000,272 L1025,310 L1010,380 L960,408 L905,385 L895,330 Z"/>
<path class="m" d="M940,262 L935,325 L895,335 M935,325 L960,408"/>
<!-- button 1 -->
<g id="btn1">
<path d="M920,740 C925,650 970,605 1030,608 C1080,612 1110,650 1130,680 L1240,705 C1300,690 1400,680 1460,730 C1500,770 1500,860 1470,910 C1440,960 1380,970 1330,960 L1270,950 C1240,900 1200,880 1150,870 L1030,850 C960,860 918,810 920,740Z" fill="#000"/>
<path d="M1030,700 L1200,728 C1215,770 1210,820 1195,850 L1040,820 C1020,790 1015,740 1030,700Z" fill="#fdfefc"/>
<path d="M1030,700 L1200,728 C1215,770 1210,820 1195,850 L1040,820 C1020,790 1015,740 1030,700Z" fill="url(#st2)"/>
<path d="M1340,760 C1370,720 1440,725 1465,770 C1485,820 1470,900 1430,930 C1390,950 1350,940 1335,900 C1320,850 1320,800 1340,760Z" fill="#fdfefc"/>
<path d="M1340,760 C1370,720 1440,725 1465,770 C1485,820 1470,900 1430,930 C1390,950 1350,940 1335,900 C1320,850 1320,800 1340,760Z" fill="url(#st1)"/>
<path d="M945,700 C955,660 985,640 1010,650 C985,690 980,760 1000,810 C970,810 940,760 945,700Z" fill="#fdfefc"/>
<path d="M945,700 C955,660 985,640 1010,650 C985,690 980,760 1000,810 C970,810 940,760 945,700Z" fill="url(#st2)"/>
<path d="M1400,735 C1440,735 1465,770 1470,800 C1480,850 1465,905 1430,930 C1400,945 1365,942 1345,920 C1400,920 1440,880 1440,820 C1440,780 1425,750 1400,735Z" fill="url(#st2)"/>
<path class="m" d="M1240,700 L1238,680 L1262,676 L1268,698"/>
<path class="k w" d="M1200,900 C1180,920 1180,960 1200,975 C1230,990 1260,975 1270,950 C1250,930 1230,905 1200,900Z"/>
<path class="m" d="M1215,920 C1210,940 1218,955 1232,952 L1255,935"/>
</g>
<!-- button 2 -->
<g id="btn2">
<path d="M892,1220 C895,1130 950,1080 1010,1085 C1060,1090 1090,1120 1110,1150 L1225,1190 C1290,1160 1390,1160 1440,1210 C1485,1260 1480,1350 1450,1400 C1420,1445 1350,1460 1290,1440 L1200,1400 C1180,1370 1160,1350 1120,1340 L1000,1340 C930,1340 890,1290 892,1220Z" fill="#000"/>
<path d="M1015,1180 L1185,1215 C1200,1255 1195,1300 1180,1330 L1020,1300 C1000,1270 1000,1215 1015,1180Z" fill="#fdfefc"/>
<path d="M1015,1180 L1185,1215 C1200,1255 1195,1300 1180,1330 L1020,1300 C1000,1270 1000,1215 1015,1180Z" fill="url(#st2)"/>
<path d="M1320,1240 C1350,1200 1420,1205 1445,1250 C1465,1300 1450,1380 1410,1410 C1370,1430 1330,1420 1315,1380 C1300,1330 1300,1280 1320,1240Z" fill="#fdfefc"/>
<path d="M1320,1240 C1350,1200 1420,1205 1445,1250 C1465,1300 1450,1380 1410,1410 C1370,1430 1330,1420 1315,1380 C1300,1330 1300,1280 1320,1240Z" fill="url(#st1)"/>
<path d="M918,1180 C928,1140 958,1120 985,1130 C960,1170 955,1240 975,1290 C945,1290 912,1240 918,1180Z" fill="#fdfefc"/>
<path d="M918,1180 C928,1140 958,1120 985,1130 C960,1170 955,1240 975,1290 C945,1290 912,1240 918,1180Z" fill="url(#st2)"/>
<path d="M1380,1215 C1420,1215 1445,1250 1450,1280 C1460,1330 1445,1385 1410,1410 C1380,1425 1345,1422 1325,1400 C1380,1400 1420,1360 1420,1300 C1420,1260 1405,1230 1380,1215Z" fill="url(#st2)"/>
</g>
<!-- leaders -->
<path class="n" d="M355,-55 L500,130"/>
<path class="n" d="M625,-90 L625,185"/>
<path class="n" d="M905,-90 L795,240"/>
<path class="n" d="M425,1460 L492,1650"/>
</g>
<!-- 25_hose.svg -->
<defs><pattern id="s1" width="48" height="48" patternUnits="userSpaceOnUse"><path d="M11.4,26.1h2.1v2.4h-2.1zM30.0,3.1h1.5v2.8h-1.5zM12.4,11.2h3.0v2.2h-3.0zM40.2,22.9h2.5v1.7h-2.5zM30.5,41.7h2.3v2.6h-2.3zM32.2,3.1h2.6v2.4h-2.6zM14.5,1.5h2.8v2.2h-2.8zM34.5,42.2h2.6v2.9h-2.6zM19.0,38.4h2.2v2.9h-2.2zM42.2,4.7h1.7v1.8h-1.7zM46.3,20.9h2.4v2.0h-2.4zM24.3,18.5h2.0v2.4h-2.0zM28.0,43.4h2.5v2.9h-2.5zM41.1,47.6h2.5v1.7h-2.5zM41.3,46.3h2.9v2.4h-2.9zM34.3,10.1h2.7v2.4h-2.7zM13.7,3.0h2.8v3.0h-2.8zM4.2,38.4h2.1v1.7h-2.1zM14.1,36.9h2.8v1.6h-2.8zM29.5,2.2h2.6v2.0h-2.6zM42.3,47.1h2.3v3.0h-2.3zM14.9,3.7h2.4v1.5h-2.4zM9.5,19.6h2.4v1.7h-2.4zM2.0,41.7h2.0v2.9h-2.0zM43.0,18.1h2.2v2.3h-2.2zM30.9,28.6h2.3v2.4h-2.3zM45.1,24.3h2.1v2.6h-2.1zM11.4,14.5h3.0v2.3h-3.0zM26.3,0.5h2.1v2.4h-2.1zM1.0,29.6h2.4v1.6h-2.4zM30.1,22.4h2.5v2.0h-2.5zM33.9,35.4h1.5v1.6h-1.5zM32.4,46.2h1.9v2.2h-1.9zM28.4,15.4h2.0v2.0h-2.0zM17.7,28.6h2.0v2.1h-2.0zM37.1,1.3h2.4v2.6h-2.4zM14.9,10.7h2.7v1.9h-2.7zM9.0,20.9h2.5v1.7h-2.5zM15.5,16.0h2.8v2.2h-2.8zM41.1,8.1h2.0v2.5h-2.0zM42.5,21.7h1.8v1.7h-1.8zM25.4,9.2h2.7v2.8h-2.7zM8.8,13.4h2.7v2.5h-2.7zM38.7,16.6h1.7v1.9h-1.7zM38.1,13.0h2.0v2.1h-2.0zM20.1,19.7h2.9v1.7h-2.9zM0.2,45.3h2.8v3.0h-2.8zM20.8,45.6h2.9v1.8h-2.9zM35.8,40.2h2.5v2.3h-2.5zM13.9,16.4h1.8v1.6h-1.8zM28.3,13.8h2.7v1.6h-2.7zM43.4,33.3h2.9v2.8h-2.9zM43.2,27.7h1.5v2.6h-1.5zM8.2,14.4h2.5v2.3h-2.5zM19.9,45.1h2.4v2.0h-2.4zM12.1,41.4h2.2v2.7h-2.2zM16.9,9.5h2.3v2.7h-2.3zM8.2,38.0h2.9v2.7h-2.9zM39.5,0.4h2.4v2.8h-2.4zM2.4,13.0h1.9v2.3h-1.9z" fill="#000"/></pattern><pattern id="s2" width="48" height="48" patternUnits="userSpaceOnUse"><path d="M20.3,22.7h3.0v1.6h-3.0zM2.6,6.1h1.8v1.7h-1.8zM46.8,41.0h1.8v2.5h-1.8zM15.2,15.1h2.2v2.8h-2.2zM28.2,17.3h1.9v2.2h-1.9zM5.9,26.7h2.9v2.3h-2.9zM3.8,8.6h2.3v2.7h-2.3zM37.6,18.3h3.0v2.7h-3.0zM20.7,17.9h2.5v2.9h-2.5zM20.2,33.3h2.4v2.0h-2.4zM25.7,33.4h1.7v2.4h-1.7zM20.4,42.2h3.3v2.3h-3.3zM43.1,38.0h2.1v2.4h-2.1zM5.9,39.0h2.8v3.2h-2.8zM38.0,32.0h2.9v2.6h-2.9zM5.0,28.2h1.6v1.9h-1.6zM37.2,2.1h1.8v1.8h-1.8zM42.3,8.6h1.6v3.1h-1.6zM5.8,40.5h2.8v3.1h-2.8zM45.7,27.8h3.0v1.7h-3.0zM36.8,24.5h2.9v1.8h-2.9zM36.0,44.9h1.7v2.2h-1.7zM27.1,39.7h2.0v1.9h-2.0zM12.0,29.6h3.0v2.3h-3.0zM17.6,19.0h2.2v2.4h-2.2zM4.0,24.0h3.4v2.3h-3.4zM35.9,7.7h2.8v3.0h-2.8zM32.3,24.8h2.5v2.8h-2.5zM43.1,7.2h1.8v2.9h-1.8zM44.0,24.8h2.4v2.9h-2.4zM8.9,12.8h2.0v2.7h-2.0zM15.1,11.2h2.8v3.3h-2.8zM14.2,33.9h2.3v3.1h-2.3zM28.1,12.8h2.0v1.6h-2.0zM23.0,18.4h1.9v2.2h-1.9zM15.5,37.2h1.9v3.4h-1.9zM23.0,28.8h2.4v3.1h-2.4zM39.4,26.7h2.5v2.9h-2.5zM41.1,19.2h2.9v3.3h-2.9zM22.4,11.0h2.0v2.9h-2.0zM32.4,46.0h3.1v2.0h-3.1zM9.1,12.4h1.9v2.9h-1.9zM41.2,43.2h2.1v3.2h-2.1zM15.0,20.3h2.9v1.8h-2.9zM4.4,40.0h2.1v2.2h-2.1zM27.9,32.4h1.6v2.2h-1.6zM20.9,23.3h2.0v2.7h-2.0zM45.9,18.8h2.6v1.8h-2.6zM13.2,31.9h1.8v3.2h-1.8zM43.6,4.7h3.3v2.3h-3.3zM37.1,36.4h2.1v2.8h-2.1zM31.4,38.7h2.1v3.0h-2.1zM46.1,32.3h2.6v1.8h-2.6zM23.7,16.9h2.9v2.8h-2.9zM27.2,8.7h2.8v2.7h-2.8zM8.6,42.7h2.8v1.8h-2.8zM44.7,6.8h2.2v2.9h-2.2zM28.7,26.6h2.8v2.4h-2.8zM15.0,8.5h1.7v2.9h-1.7zM36.2,26.1h2.9v2.2h-2.9zM12.8,18.4h3.2v1.7h-3.2zM24.2,11.9h3.0v2.2h-3.0zM16.0,19.4h2.6v3.0h-2.6zM16.9,40.7h1.8v2.1h-1.8zM4.8,5.4h3.0v2.9h-3.0zM8.9,9.1h2.3v2.9h-2.3zM39.2,35.9h2.7v1.9h-2.7zM19.1,9.3h2.5v2.6h-2.5zM9.7,12.0h3.0v1.7h-3.0zM38.6,42.8h3.3v2.3h-3.3zM26.5,28.0h2.7v3.4h-2.7zM33.0,14.4h3.1v2.5h-3.1zM28.9,34.9h1.6v3.0h-1.6zM31.8,23.6h2.5v2.4h-2.5zM9.3,25.4h1.7v2.5h-1.7zM31.0,21.3h2.6v3.3h-2.6zM42.8,6.5h3.0v2.7h-3.0zM2.4,17.3h2.0v1.7h-2.0zM25.9,44.6h2.2v3.2h-2.2zM33.3,6.4h3.1v2.7h-3.1zM44.5,34.4h2.9v2.2h-2.9zM38.7,44.7h3.2v2.4h-3.2zM36.3,23.3h1.8v1.7h-1.8zM3.7,9.6h1.9v2.5h-1.9zM33.6,25.8h2.4v2.8h-2.4zM14.6,22.3h3.0v2.3h-3.0zM8.7,43.2h2.9v2.3h-2.9zM17.8,25.4h2.7v2.0h-2.7zM0.1,10.0h3.0v1.9h-3.0zM22.1,9.4h2.0v1.9h-2.0zM19.4,8.1h1.6v1.8h-1.6zM8.1,23.5h1.7v1.6h-1.7zM21.5,19.6h2.9v1.7h-2.9zM19.4,19.0h1.6v3.3h-1.6zM10.5,4.5h2.5v1.9h-2.5zM29.9,16.6h1.8v1.7h-1.8zM34.9,13.2h3.0v2.4h-3.0zM44.8,14.4h2.0v2.1h-2.0zM39.1,30.2h2.2v1.8h-2.2zM32.8,46.5h2.7v1.6h-2.7zM1.5,4.3h1.9v1.7h-1.9zM2.6,31.4h3.2v2.0h-3.2zM46.7,22.9h3.0v3.3h-3.0zM45.1,1.6h2.1v2.7h-2.1zM45.4,4.2h2.1v3.1h-2.1zM5.5,18.7h2.2v2.8h-2.2zM44.6,8.4h2.9v2.9h-2.9zM40.1,26.6h3.3v2.3h-3.3zM19.9,11.0h3.0v2.5h-3.0zM12.9,8.1h2.9v2.7h-2.9zM34.1,18.6h2.5v1.9h-2.5zM34.1,1.1h2.4v3.0h-2.4zM32.5,4.7h2.0v3.1h-2.0zM30.8,42.2h3.2v2.4h-3.2zM43.1,35.2h2.2v2.3h-2.2zM3.5,19.2h3.3v1.8h-3.3zM27.3,5.3h1.7v2.8h-1.7zM11.6,2.3h1.9v2.8h-1.9zM28.1,0.6h2.0v3.3h-2.0zM10.6,27.0h2.4v3.0h-2.4zM29.0,37.9h2.6v1.9h-2.6zM8.5,3.8h3.1v1.8h-3.1zM1.2,46.4h2.0v3.2h-2.0zM4.1,22.3h2.0v3.1h-2.0zM29.5,30.8h3.0v3.2h-3.0zM16.6,28.9h2.4v1.8h-2.4zM40.1,28.5h3.1v2.0h-3.1zM25.9,22.3h2.9v1.7h-2.9zM16.6,23.3h1.7v2.6h-1.7zM35.3,20.3h2.8v2.7h-2.8zM10.3,16.8h3.4v2.2h-3.4zM20.7,4.0h2.0v1.9h-2.0zM44.7,34.9h3.2v3.4h-3.2zM29.4,44.7h2.6v2.4h-2.6zM45.5,43.3h3.3v2.5h-3.3zM37.1,19.5h3.4v3.3h-3.4zM14.0,44.8h1.9v1.8h-1.9zM34.7,14.1h2.5v2.8h-2.5zM1.9,35.8h2.1v2.4h-2.1zM16.5,35.6h2.9v2.1h-2.9zM5.0,14.4h2.3v1.7h-2.3zM7.4,36.6h2.9v3.4h-2.9zM47.0,42.1h2.3v1.9h-2.3zM15.0,22.2h2.5v2.6h-2.5zM17.3,40.9h2.1v2.4h-2.1zM42.6,38.7h2.1v2.0h-2.1zM38.7,0.5h1.8v2.6h-1.8zM25.7,8.0h1.7v2.0h-1.7zM37.0,22.4h3.4v3.0h-3.4zM47.0,1.7h1.9v1.6h-1.9z" fill="#000"/></pattern><pattern id="s3" width="48" height="48" patternUnits="userSpaceOnUse"><path d="M20.8,16.2h1.9v2.8h-1.9zM4.5,15.0h2.2v3.2h-2.2zM20.1,12.5h1.9v2.6h-1.9zM30.1,32.4h3.4v3.3h-3.4zM11.9,6.5h3.2v3.2h-3.2zM24.4,39.9h2.8v2.3h-2.8zM8.1,0.8h3.0v3.4h-3.0zM43.5,22.4h3.0v3.5h-3.0zM39.1,28.9h2.5v2.7h-2.5zM8.2,8.8h3.0v3.6h-3.0zM26.3,19.6h2.4v2.6h-2.4zM38.5,21.7h3.5v2.1h-3.5zM15.1,25.1h2.5v3.3h-2.5zM39.7,44.7h2.9v1.9h-2.9zM27.6,26.4h2.7v2.3h-2.7zM34.1,43.8h2.0v3.0h-2.0zM17.8,24.7h3.4v3.5h-3.4zM30.9,9.4h3.5v2.1h-3.5zM18.4,39.8h2.4v2.3h-2.4zM45.6,45.3h2.4v2.5h-2.4zM13.5,6.3h2.3v3.6h-2.3zM3.8,11.0h2.2v1.9h-2.2zM25.3,35.7h3.3v2.9h-3.3zM39.3,0.3h2.3v3.5h-2.3zM3.3,12.8h2.7v2.3h-2.7zM26.2,2.3h2.2v3.5h-2.2zM6.9,43.5h2.1v3.6h-2.1zM32.4,31.1h2.1v1.9h-2.1zM36.5,8.5h2.1v3.3h-2.1zM42.0,2.3h3.5v2.8h-3.5zM18.4,5.1h2.5v3.6h-2.5zM13.5,6.3h2.1v2.0h-2.1zM16.9,43.9h1.9v2.1h-1.9zM45.1,47.9h3.6v2.2h-3.6zM17.0,45.6h2.7v3.1h-2.7zM15.0,1.0h2.4v3.1h-2.4zM37.5,27.3h2.6v2.8h-2.6zM21.2,25.7h3.3v2.2h-3.3zM28.5,44.8h3.3v2.1h-3.3zM46.2,40.3h2.1v2.3h-2.1zM9.7,2.5h3.6v2.5h-3.6zM41.9,5.5h1.8v3.4h-1.8zM38.1,47.6h3.0v2.7h-3.0zM36.8,4.4h2.8v2.6h-2.8zM7.0,28.8h2.4v2.7h-2.4zM17.9,15.3h2.4v2.9h-2.4zM47.1,44.9h3.4v3.3h-3.4zM13.8,46.9h2.3v2.0h-2.3zM24.0,35.1h2.4v3.0h-2.4zM13.6,46.4h2.6v2.7h-2.6zM25.5,42.0h3.6v2.8h-3.6zM21.2,29.7h1.9v2.6h-1.9zM40.7,37.3h1.9v3.3h-1.9zM18.4,47.1h2.5v2.2h-2.5zM26.3,42.4h2.6v3.4h-2.6zM34.1,17.4h2.3v2.7h-2.3zM19.2,17.9h3.0v3.4h-3.0zM28.1,7.0h2.2v2.5h-2.2zM29.5,6.7h1.9v2.4h-1.9zM13.6,1.4h2.8v3.5h-2.8zM25.6,35.4h3.3v3.3h-3.3zM43.8,21.2h3.0v2.0h-3.0zM42.2,18.2h2.7v3.4h-2.7zM13.8,9.1h3.3v2.9h-3.3zM4.1,1.3h2.4v1.8h-2.4zM40.0,8.8h2.3v2.5h-2.3zM24.6,20.8h2.9v3.0h-2.9zM20.9,4.7h3.6v3.0h-3.6zM4.0,21.2h3.2v3.6h-3.2zM3.2,0.5h2.7v2.6h-2.7zM42.9,39.7h2.4v2.6h-2.4zM28.0,42.4h2.2v2.5h-2.2zM4.2,30.8h1.8v3.5h-1.8zM25.1,27.5h2.0v2.2h-2.0zM22.5,41.2h2.8v2.3h-2.8zM47.1,31.7h2.8v2.2h-2.8zM14.3,43.2h2.0v2.8h-2.0zM29.8,17.0h3.2v3.4h-3.2zM41.2,35.4h2.2v1.9h-2.2zM20.8,15.0h2.1v3.4h-2.1zM10.4,39.5h3.5v2.0h-3.5zM43.9,19.1h2.2v2.1h-2.2zM1.8,23.9h2.5v3.3h-2.5zM40.0,2.7h2.5v2.5h-2.5zM8.5,12.0h2.3v3.0h-2.3zM16.3,5.3h2.2v2.6h-2.2zM27.1,11.8h3.1v2.2h-3.1zM32.2,29.2h2.1v3.2h-2.1zM18.9,25.9h2.9v2.9h-2.9zM21.2,2.7h3.2v3.3h-3.2zM23.5,27.8h2.3v3.4h-2.3zM32.9,10.7h3.3v3.6h-3.3zM16.6,47.8h2.7v2.1h-2.7zM34.4,16.3h3.1v2.9h-3.1zM5.2,25.3h3.3v2.7h-3.3zM25.9,41.4h2.6v2.7h-2.6zM28.0,39.5h2.2v2.0h-2.2zM36.5,26.5h2.3v3.4h-2.3zM42.5,26.0h3.6v3.3h-3.6zM35.9,14.0h1.8v3.0h-1.8zM35.3,16.8h2.7v2.8h-2.7zM12.0,33.5h2.8v2.5h-2.8zM5.3,26.6h2.4v3.1h-2.4zM8.3,18.9h2.2v2.5h-2.2zM27.7,5.1h1.9v2.7h-1.9zM9.7,24.2h2.1v2.0h-2.1zM25.8,44.3h3.4v2.7h-3.4zM19.1,3.2h2.3v2.4h-2.3zM45.2,5.6h3.5v2.7h-3.5zM20.8,12.6h3.5v2.1h-3.5zM27.4,24.5h2.2v2.2h-2.2zM47.3,38.0h3.1v3.4h-3.1zM4.7,33.8h3.2v2.2h-3.2zM21.9,46.8h2.4v3.2h-2.4zM7.9,32.0h2.3v2.7h-2.3zM17.9,41.8h3.1v2.7h-3.1zM33.0,20.5h3.2v2.3h-3.2zM26.1,28.1h2.5v1.9h-2.5zM8.2,30.7h2.2v3.2h-2.2zM24.2,45.8h3.3v3.1h-3.3zM17.9,2.1h2.8v3.1h-2.8zM44.2,9.7h2.1v3.6h-2.1zM35.5,23.3h3.1v2.1h-3.1zM26.1,32.1h2.9v2.1h-2.9zM6.6,30.0h3.4v2.0h-3.4zM0.3,4.0h3.2v2.5h-3.2zM21.9,47.7h2.9v2.3h-2.9zM33.6,0.1h2.3v3.1h-2.3zM8.2,1.6h2.7v2.4h-2.7zM46.6,4.9h3.2v2.5h-3.2zM38.7,21.4h3.0v2.4h-3.0zM10.8,21.7h3.2v2.4h-3.2zM11.0,20.0h2.0v2.4h-2.0zM27.5,26.2h2.9v2.3h-2.9zM1.2,1.3h2.4v2.2h-2.4zM27.3,12.7h3.2v2.9h-3.2zM31.8,35.3h2.7v2.6h-2.7zM14.8,3.0h3.2v2.7h-3.2zM4.8,44.5h2.8v2.9h-2.8zM21.1,6.1h3.6v2.1h-3.6zM17.6,48.0h2.0v2.7h-2.0zM23.0,11.9h3.5v2.5h-3.5zM0.6,22.7h1.8v3.1h-1.8zM41.7,43.5h1.9v3.0h-1.9zM14.6,22.7h2.3v2.3h-2.3zM6.4,30.0h2.0v3.5h-2.0zM2.1,46.3h2.1v2.0h-2.1zM35.8,25.5h3.2v2.7h-3.2zM30.3,4.0h3.0v2.7h-3.0zM46.2,0.3h1.9v3.0h-1.9zM44.5,20.2h3.1v2.8h-3.1zM18.8,22.3h2.9v1.9h-2.9zM14.7,35.4h2.3v2.7h-2.3zM12.3,17.2h3.0v3.1h-3.0zM45.9,22.9h2.2v2.4h-2.2zM2.8,11.5h2.9v2.9h-2.9zM11.6,8.7h2.0v2.1h-2.0zM24.1,12.2h3.4v2.8h-3.4zM16.3,20.7h1.9v3.1h-1.9zM36.1,17.5h3.1v2.3h-3.1zM10.5,11.0h2.2v2.9h-2.2zM30.8,34.9h2.0v3.2h-2.0zM23.0,18.2h2.7v2.6h-2.7zM9.6,19.0h3.0v3.1h-3.0zM43.9,9.3h3.4v3.2h-3.4zM34.2,47.0h2.0v3.2h-2.0zM43.2,5.9h2.9v3.5h-2.9zM14.1,41.1h3.4v2.6h-3.4zM7.0,10.3h3.3v2.6h-3.3zM15.2,21.3h3.5v2.3h-3.5zM0.9,45.6h2.4v2.5h-2.4zM46.8,13.5h2.0v3.4h-2.0zM11.7,10.6h3.5v2.2h-3.5zM43.3,16.0h2.3v2.2h-2.3zM26.0,26.9h2.5v2.7h-2.5zM14.3,40.2h3.5v3.2h-3.5zM39.3,3.4h2.3v2.2h-2.3zM7.4,46.5h3.4v3.4h-3.4zM26.8,5.6h2.6v1.9h-2.6zM43.4,12.7h2.3v3.5h-2.3zM9.6,44.3h2.4v3.0h-2.4zM5.1,43.1h2.5v2.4h-2.5zM31.4,28.5h2.3v2.0h-2.3zM27.6,1.2h3.4v2.4h-3.4zM8.1,15.7h2.0v2.4h-2.0zM26.1,19.5h2.4v2.3h-2.4zM23.4,37.4h2.6v3.2h-2.6zM23.2,5.8h2.1v3.3h-2.1zM23.0,18.4h2.7v3.3h-2.7zM18.0,17.4h2.5v1.8h-2.5zM26.2,23.0h2.7v2.6h-2.7zM22.7,34.3h2.1v3.6h-2.1zM5.5,41.6h2.1v3.2h-2.1zM12.5,3.8h2.8v3.3h-2.8zM40.6,42.1h3.6v1.9h-3.6zM18.2,5.1h3.2v2.6h-3.2zM35.7,38.2h3.6v3.0h-3.6zM42.0,26.3h1.9v3.4h-1.9zM4.4,4.1h3.3v2.3h-3.3zM31.8,1.4h2.2v3.1h-2.2zM1.8,24.5h3.5v2.2h-3.5zM33.8,35.7h2.9v3.2h-2.9zM33.5,0.7h2.1v2.8h-2.1zM46.6,10.4h2.9v2.0h-2.9zM40.6,21.4h2.7v3.0h-2.7zM6.6,35.0h3.2v3.3h-3.2zM13.5,11.2h2.1v3.4h-2.1zM21.0,18.7h2.7v3.1h-2.7zM15.3,16.1h3.2v3.2h-3.2zM14.2,3.5h3.5v3.1h-3.5zM28.5,19.4h3.5v2.6h-3.5zM10.4,4.8h2.4v2.9h-2.4zM17.5,45.5h3.0v2.6h-3.0zM31.7,28.9h2.9v2.7h-2.9zM25.1,23.6h3.3v2.1h-3.3zM37.7,14.3h3.3v1.9h-3.3zM23.3,21.3h3.1v2.2h-3.1zM12.6,6.4h2.8v2.8h-2.8zM0.0,8.5h2.2v3.5h-2.2zM21.8,27.1h2.3v3.0h-2.3zM39.0,32.2h1.8v2.6h-1.8zM23.5,2.1h3.2v2.4h-3.2zM14.1,30.0h2.9v2.7h-2.9zM41.2,24.9h2.4v1.9h-2.4zM26.5,17.4h2.8v2.4h-2.8zM0.3,1.8h2.1v2.0h-2.1zM40.9,27.9h2.2v3.1h-2.2zM30.5,3.0h3.2v2.2h-3.2zM47.9,6.8h2.3v2.2h-2.3zM41.4,39.3h2.8v2.1h-2.8zM20.6,33.7h1.9v3.5h-1.9zM40.4,44.7h3.1v2.9h-3.1zM46.8,12.8h2.3v2.0h-2.3zM8.7,38.3h2.0v3.1h-2.0zM19.0,42.1h3.2v3.0h-3.2zM40.6,2.0h2.3v2.5h-2.3zM20.6,32.2h3.4v3.1h-3.4zM44.6,33.4h2.4v2.7h-2.4zM35.9,39.1h2.5v2.4h-2.5zM29.5,11.0h3.4v1.8h-3.4zM31.1,23.3h2.2v2.8h-2.2zM22.8,46.2h3.4v2.9h-3.4zM41.8,42.4h2.1v3.3h-2.1zM40.0,47.6h3.2v2.5h-3.2zM9.9,31.3h2.2v3.2h-2.2zM27.6,39.6h2.4v2.3h-2.4zM43.4,31.8h2.5v2.8h-2.5zM20.9,30.9h2.7v2.3h-2.7zM47.0,42.5h3.2v2.3h-3.2zM9.3,35.1h3.3v3.0h-3.3zM10.2,34.6h2.7v2.5h-2.7zM28.3,21.5h3.0v3.2h-3.0zM47.2,5.3h2.8v3.5h-2.8zM31.5,27.8h3.3v1.9h-3.3zM38.0,29.9h2.9v2.4h-2.9zM29.7,6.0h2.7v2.3h-2.7zM44.7,38.6h2.7v3.2h-2.7zM18.5,25.1h2.1v3.3h-2.1zM36.7,36.5h1.9v3.3h-1.9zM0.6,27.1h2.7v1.9h-2.7z" fill="#000"/></pattern></defs>
<g id="hose">
<path d="M1308.6,894.8 L1297.8,912.9 L1287.1,931.0 L1276.3,949.1 L1265.5,967.2 L1254.8,985.4 L1244.0,1003.5 L1233.3,1021.6 L1222.6,1039.8 L1211.9,1057.9 L1201.3,1076.1 L1190.7,1094.3 L1180.1,1112.5 L1169.5,1130.7 L1158.9,1149.0 L1148.4,1167.2 L1137.9,1185.4 L1127.3,1203.7 L1116.8,1221.9 L1106.3,1240.2 L1095.8,1258.5 L1085.3,1276.7 L1074.8,1295.0 L1064.4,1313.3 L1054.0,1331.6 L1043.8,1350.1 L1034.0,1368.7 L1024.2,1387.4 L1015.3,1406.5 L1005.4,1425.0 L995.2,1443.5 L984.8,1461.8 L974.3,1480.1 L963.8,1498.3 L953.3,1516.6 L942.7,1534.8 L932.2,1553.0 L921.7,1571.3 L911.1,1589.5 L900.6,1607.8 L890.1,1626.0 L879.6,1644.3 L869.1,1662.6 L858.7,1680.9 L848.4,1699.3 L838.3,1717.8 L828.5,1736.4 L820.6,1755.9 L812.3,1775.3 L803.9,1794.6 L795.5,1813.9 L787.4,1833.4 L779.8,1853.0 L772.7,1872.8 L766.2,1892.9 L760.2,1913.1 L754.5,1933.4 L749.1,1953.7 L744.0,1974.2 L740.0,1994.8 L738.0,2015.8 L738.0,2036.9 L740.6,2057.8 L745.3,2078.3 L753.5,2097.6 L767.4,2113.4 L784.9,2124.9 L804.8,2131.8 L825.5,2135.4 L846.0,2133.0 L846.0,2080.0 L827.2,2082.4 L808.9,2076.6 L796.8,2061.7 L790.6,2043.5 L790.2,2024.2 L792.3,2004.9 L795.7,1985.9 L800.1,1967.0 L805.2,1948.4 L810.5,1929.7 L815.9,1911.2 L821.6,1892.7 L827.5,1874.2 L833.9,1855.9 L840.7,1837.8 L848.0,1819.9 L855.6,1802.1 L863.6,1784.5 L871.8,1766.9 L880.2,1749.5 L889.7,1732.6 L900.5,1716.6 L910.3,1699.9 L919.8,1683.0 L929.1,1666.0 L938.4,1649.1 L947.6,1632.1 L956.9,1615.1 L966.1,1598.1 L975.4,1581.1 L984.7,1564.1 L994.0,1547.1 L1003.4,1530.1 L1012.8,1513.3 L1022.4,1496.4 L1032.1,1479.7 L1041.7,1462.9 L1051.4,1446.1 L1061.0,1429.3 L1070.5,1412.5 L1079.8,1395.5 L1088.8,1378.3 L1096.8,1360.7 L1103.1,1342.4 L1109.2,1324.0 L1117.0,1306.3 L1126.2,1289.3 L1136.0,1272.6 L1146.3,1256.2 L1156.8,1240.0 L1167.5,1223.8 L1178.2,1207.7 L1189.0,1191.6 L1199.8,1175.6 L1210.6,1159.5 L1221.3,1143.4 L1232.0,1127.2 L1242.5,1111.0 L1252.9,1094.7 L1263.1,1078.2 L1272.9,1061.5 L1282.5,1044.7 L1291.9,1027.8 L1301.1,1010.8 L1310.2,993.7 L1319.2,976.5 L1328.1,959.3 L1337.0,942.1 L1346.0,925.0Z" fill="#fdfefc"/>
<path d="M1319.8,903.9 L1309.6,921.7 L1299.4,939.5 L1289.2,957.3 L1278.9,975.2 L1268.7,993.0 L1258.4,1010.8 L1248.1,1028.5 L1237.7,1046.3 L1227.3,1064.0 L1216.8,1081.7 L1206.2,1099.3 L1195.6,1116.9 L1185.0,1134.5 L1174.4,1152.1 L1163.8,1169.7 L1153.2,1187.3 L1142.6,1204.9 L1132.0,1222.5 L1121.5,1240.1 L1111.0,1257.8 L1100.5,1275.5 L1090.2,1293.3 L1080.2,1311.2 L1070.6,1329.4 L1061.6,1347.8 L1052.8,1366.3 L1043.6,1384.7 L1034.7,1403.2 L1025.0,1421.3 L1014.9,1439.2 L1004.8,1457.1 L994.5,1474.9 L984.3,1492.7 L974.0,1510.5 L963.8,1528.3 L953.5,1546.2 L943.4,1564.0 L933.2,1581.9 L923.0,1599.8 L912.9,1617.6 L902.8,1635.5 L892.7,1653.4 L882.6,1671.4 L872.6,1689.3 L862.7,1707.3 L853.1,1725.5 L844.6,1744.1 L835.5,1762.5 L826.8,1781.1 L818.4,1799.8 L810.3,1818.7 L802.5,1837.7 L795.2,1857.0 L788.5,1876.4 L782.3,1895.9 L776.4,1915.6 L770.8,1935.4 L765.6,1955.3 L761.1,1975.3 L758.2,1995.6 L756.7,2015.9 L757.1,2036.2 L759.4,2056.3 L764.5,2075.6 L774.3,2092.4 L788.5,2106.0 L806.0,2115.2 L826.0,2119.5 L846.0,2117.1 L846.0,2101.2 L826.5,2103.6 L807.2,2098.7 L792.0,2087.0 L781.3,2071.4 L775.5,2053.6 L773.5,2034.3 L773.6,2014.6 L775.3,1995.0 L778.3,1975.3 L782.3,1955.8 L787.2,1936.4 L792.6,1917.1 L798.3,1897.9 L804.4,1878.8 L810.9,1859.8 L817.8,1841.1 L825.3,1822.5 L833.1,1804.0 L841.3,1785.7 L849.7,1767.5 L858.7,1749.7 L868.5,1732.3 L877.6,1714.5 L887.2,1696.9 L896.8,1679.3 L906.5,1661.8 L916.2,1644.3 L926.0,1626.8 L935.7,1609.2 L945.5,1591.7 L955.3,1574.3 L965.1,1556.8 L974.9,1539.3 L984.8,1521.9 L994.7,1504.5 L1004.7,1487.1 L1014.8,1469.8 L1024.8,1452.4 L1034.7,1435.0 L1044.5,1417.5 L1054.0,1399.9 L1063.0,1381.9 L1071.7,1363.9 L1079.4,1345.5 L1087.1,1327.1 L1096.0,1309.1 L1105.6,1291.6 L1115.7,1274.3 L1126.1,1257.1 L1136.6,1240.1 L1147.2,1223.1 L1157.9,1206.1 L1168.5,1189.2 L1179.2,1172.2 L1189.9,1155.3 L1200.6,1138.3 L1211.2,1121.3 L1221.8,1104.3 L1232.3,1087.2 L1242.6,1070.1 L1252.8,1052.8 L1262.8,1035.5 L1272.8,1018.1 L1282.6,1000.6 L1292.4,983.1 L1302.1,965.6 L1311.7,948.0 L1321.3,930.4 L1331.0,912.9Z" fill="url(#s1)"/>
<path d="M1329.2,911.4 L1319.4,929.0 L1309.6,946.6 L1299.9,964.2 L1290.1,981.8 L1280.3,999.3 L1270.4,1016.8 L1260.4,1034.3 L1250.3,1051.7 L1240.1,1069.1 L1229.7,1086.3 L1219.2,1103.5 L1208.6,1120.6 L1198.0,1137.7 L1187.3,1154.7 L1176.7,1171.8 L1166.0,1188.8 L1155.3,1205.9 L1144.7,1223.0 L1134.1,1240.1 L1123.6,1257.2 L1113.2,1274.5 L1103.1,1291.9 L1093.3,1309.5 L1084.4,1327.5 L1076.4,1345.9 L1068.5,1364.3 L1059.7,1382.4 L1050.8,1400.4 L1041.2,1418.1 L1031.4,1435.7 L1021.4,1453.2 L1011.4,1470.6 L1001.3,1488.1 L991.3,1505.5 L981.3,1523.0 L971.3,1540.5 L961.4,1558.0 L951.6,1575.5 L941.7,1593.1 L931.9,1610.6 L922.1,1628.2 L912.3,1645.8 L902.5,1663.4 L892.8,1681.0 L883.1,1698.6 L873.5,1716.3 L864.5,1734.3 L854.9,1751.8 L845.9,1769.8 L837.5,1788.1 L829.3,1806.5 L821.5,1825.0 L814.1,1843.7 L807.2,1862.6 L800.7,1881.6 L794.7,1900.8 L789.0,1920.1 L783.6,1939.5 L778.7,1959.0 L775.0,1978.7 L772.2,1998.5 L770.9,2018.2 L771.2,2037.9 L773.7,2057.2 L780.1,2074.9 L791.5,2090.2 L807.0,2101.5 L826.4,2106.2 L846.0,2103.8 L846.0,2087.9 L826.9,2090.3 L808.3,2084.9 L795.0,2071.2 L787.1,2054.0 L784.7,2035.2 L785.3,2015.9 L787.4,1996.7 L790.8,1977.5 L795.1,1958.5 L799.9,1939.5 L805.1,1920.6 L810.7,1901.8 L816.6,1883.1 L822.8,1864.5 L829.5,1846.1 L836.7,1827.8 L844.2,1809.7 L852.1,1791.8 L860.3,1774.0 L868.8,1756.3 L878.1,1739.0 L888.5,1722.5 L898.1,1705.4 L907.6,1688.2 L917.0,1671.0 L926.4,1653.8 L935.9,1636.6 L945.3,1619.4 L954.7,1602.2 L964.2,1585.1 L973.7,1567.9 L983.2,1550.7 L992.7,1533.6 L1002.3,1516.5 L1012.0,1499.5 L1021.8,1482.5 L1031.6,1465.5 L1041.4,1448.5 L1051.1,1431.4 L1060.8,1414.4 L1070.2,1397.1 L1079.1,1379.7 L1087.4,1361.9 L1094.2,1343.6 L1100.9,1325.2 L1109.1,1307.4 L1118.5,1290.1 L1128.4,1273.2 L1138.7,1256.6 L1149.3,1240.0 L1159.9,1223.5 L1170.6,1207.1 L1181.3,1190.7 L1192.1,1174.3 L1202.8,1157.9 L1213.5,1141.5 L1224.2,1125.0 L1234.8,1108.5 L1245.2,1091.9 L1255.4,1075.1 L1265.4,1058.2 L1275.1,1041.2 L1284.7,1024.1 L1294.2,1007.0 L1303.5,989.7 L1312.8,972.4 L1322.0,955.1 L1331.1,937.8 L1340.4,920.5Z" fill="url(#s2)"/>
<path d="M1338.5,919.0 L1329.2,936.3 L1319.9,953.7 L1310.6,971.0 L1301.3,988.4 L1291.9,1005.7 L1282.3,1022.9 L1272.7,1040.1 L1262.9,1057.2 L1252.8,1074.1 L1242.6,1091.0 L1232.2,1107.7 L1221.6,1124.3 L1210.9,1140.8 L1200.2,1157.4 L1189.5,1173.9 L1178.8,1190.4 L1168.1,1206.9 L1157.4,1223.5 L1146.7,1240.0 L1136.2,1256.7 L1125.9,1273.4 L1115.9,1290.4 L1106.5,1307.7 L1098.1,1325.6 L1091.2,1343.9 L1084.2,1362.3 L1075.9,1380.1 L1066.9,1397.7 L1057.5,1415.0 L1047.9,1432.2 L1038.1,1449.3 L1028.2,1466.3 L1018.4,1483.4 L1008.6,1500.5 L998.8,1517.6 L989.1,1534.7 L979.5,1551.9 L970.0,1569.2 L960.4,1586.4 L950.9,1603.6 L941.4,1620.9 L931.9,1638.2 L922.5,1655.4 L913.0,1672.7 L903.5,1690.0 L894.0,1707.2 L884.5,1724.4 L874.2,1741.2 L865.0,1758.5 L856.5,1776.3 L848.3,1794.2 L840.4,1812.3 L832.9,1830.5 L825.8,1848.8 L819.1,1867.4 L812.9,1886.1 L807.1,1904.9 L801.5,1923.8 L796.4,1942.8 L791.8,1961.9 L787.7,1981.0 L784.7,2000.3 L782.9,2019.6 L782.9,2038.9 L785.9,2057.5 L794.4,2074.4 L808.1,2087.7 L826.8,2093.0 L846.0,2090.6 L846.0,2080.0 L827.2,2082.4 L808.9,2076.6 L796.8,2061.7 L790.6,2043.5 L790.2,2024.2 L792.3,2004.9 L795.7,1985.9 L800.1,1967.0 L805.2,1948.4 L810.5,1929.7 L815.9,1911.2 L821.6,1892.7 L827.5,1874.2 L833.9,1855.9 L840.7,1837.8 L848.0,1819.9 L855.6,1802.1 L863.6,1784.5 L871.8,1766.9 L880.2,1749.5 L889.7,1732.6 L900.5,1716.6 L910.3,1699.9 L919.8,1683.0 L929.1,1666.0 L938.4,1649.1 L947.6,1632.1 L956.9,1615.1 L966.1,1598.1 L975.4,1581.1 L984.7,1564.1 L994.0,1547.1 L1003.4,1530.1 L1012.8,1513.3 L1022.4,1496.4 L1032.1,1479.7 L1041.7,1462.9 L1051.4,1446.1 L1061.0,1429.3 L1070.5,1412.5 L1079.8,1395.5 L1088.8,1378.3 L1096.8,1360.7 L1103.1,1342.4 L1109.2,1324.0 L1117.0,1306.3 L1126.2,1289.3 L1136.0,1272.6 L1146.3,1256.2 L1156.8,1240.0 L1167.5,1223.8 L1178.2,1207.7 L1189.0,1191.6 L1199.8,1175.6 L1210.6,1159.5 L1221.3,1143.4 L1232.0,1127.2 L1242.5,1111.0 L1252.9,1094.7 L1263.1,1078.2 L1272.9,1061.5 L1282.5,1044.7 L1291.9,1027.8 L1301.1,1010.8 L1310.2,993.7 L1319.2,976.5 L1328.1,959.3 L1337.0,942.1 L1346.0,925.0Z" fill="url(#s3)"/>
<path d="M1308.6,894.8 L1297.8,912.9 L1287.1,931.0 L1276.3,949.1 L1265.5,967.2 L1254.8,985.4 L1244.0,1003.5 L1233.3,1021.6 L1222.6,1039.8 L1211.9,1057.9 L1201.3,1076.1 L1190.7,1094.3 L1180.1,1112.5 L1169.5,1130.7 L1158.9,1149.0 L1148.4,1167.2 L1137.9,1185.4 L1127.3,1203.7 L1116.8,1221.9 L1106.3,1240.2 L1095.8,1258.5 L1085.3,1276.7 L1074.8,1295.0 L1064.4,1313.3 L1054.0,1331.6 L1043.8,1350.1 L1034.0,1368.7 L1024.2,1387.4 L1015.3,1406.5 L1005.4,1425.0 L995.2,1443.5 L984.8,1461.8 L974.3,1480.1 L963.8,1498.3 L953.3,1516.6 L942.7,1534.8 L932.2,1553.0 L921.7,1571.3 L911.1,1589.5 L900.6,1607.8 L890.1,1626.0 L879.6,1644.3 L869.1,1662.6 L858.7,1680.9 L848.4,1699.3 L838.3,1717.8 L828.5,1736.4 L820.6,1755.9 L812.3,1775.3 L803.9,1794.6 L795.5,1813.9 L787.4,1833.4 L779.8,1853.0 L772.7,1872.8 L766.2,1892.9 L760.2,1913.1 L754.5,1933.4 L749.1,1953.7 L744.0,1974.2 L740.0,1994.8 L738.0,2015.8 L738.0,2036.9 L740.6,2057.8 L745.3,2078.3 L753.5,2097.6 L767.4,2113.4 L784.9,2124.9 L804.8,2131.8 L825.5,2135.4 L846.0,2133.0 L846.0,2126.6 L825.7,2129.1 L805.3,2125.2 L786.3,2117.4 L770.2,2105.0 L757.9,2088.8 L751.0,2069.5 L747.2,2049.1 L745.5,2028.5 L746.1,2007.7 L748.4,1987.0 L752.7,1966.6 L757.8,1946.4 L763.2,1926.3 L769.0,1906.2 L775.1,1886.3 L781.7,1866.5 L788.9,1846.9 L796.6,1827.5 L804.7,1808.3 L813.0,1789.2 L821.6,1770.2 L830.2,1751.2 L838.3,1732.0 L848.1,1713.6 L858.1,1695.3 L868.3,1677.1 L878.5,1658.9 L888.9,1640.8 L899.2,1622.7 L909.6,1604.6 L919.9,1586.5 L930.3,1568.4 L940.7,1550.3 L951.1,1532.2 L961.6,1514.1 L972.0,1496.1 L982.4,1478.0 L992.8,1459.9 L1003.1,1441.8 L1013.2,1423.5 L1023.1,1405.1 L1032.0,1386.3 L1041.5,1367.7 L1050.9,1349.2 L1060.7,1330.7 L1070.7,1312.5 L1081.0,1294.3 L1091.4,1276.2 L1101.9,1258.2 L1112.4,1240.2 L1122.9,1222.2 L1133.4,1204.2 L1144.0,1186.2 L1154.6,1168.2 L1165.1,1150.2 L1175.7,1132.2 L1186.3,1114.3 L1196.9,1096.3 L1207.5,1078.3 L1218.1,1060.3 L1228.6,1042.4 L1239.2,1024.4 L1249.8,1006.4 L1260.3,988.4 L1270.9,970.4 L1281.5,952.4 L1292.0,934.4 L1302.5,916.4 L1313.1,898.4Z" fill="url(#s2)"/>
<path d="M1308.6,894.8 L1297.8,912.9 L1287.1,931.0 L1276.3,949.1 L1265.5,967.2 L1254.8,985.4 L1244.0,1003.5 L1233.3,1021.6 L1222.6,1039.8 L1211.9,1057.9 L1201.3,1076.1 L1190.7,1094.3 L1180.1,1112.5 L1169.5,1130.7 L1158.9,1149.0 L1148.4,1167.2 L1137.9,1185.4 L1127.3,1203.7 L1116.8,1221.9 L1106.3,1240.2 L1095.8,1258.5 L1085.3,1276.7 L1074.8,1295.0 L1064.4,1313.3 L1054.0,1331.6 L1043.8,1350.1 L1034.0,1368.7 L1024.2,1387.4 L1015.3,1406.5 L1005.4,1425.0 L995.2,1443.5 L984.8,1461.8 L974.3,1480.1 L963.8,1498.3 L953.3,1516.6 L942.7,1534.8 L932.2,1553.0 L921.7,1571.3 L911.1,1589.5 L900.6,1607.8 L890.1,1626.0 L879.6,1644.3 L869.1,1662.6 L858.7,1680.9 L848.4,1699.3 L838.3,1717.8 L828.5,1736.4 L820.6,1755.9 L812.3,1775.3 L803.9,1794.6 L795.5,1813.9 L787.4,1833.4 L779.8,1853.0 L772.7,1872.8 L766.2,1892.9 L760.2,1913.1 L754.5,1933.4 L749.1,1953.7 L744.0,1974.2 L740.0,1994.8 L738.0,2015.8 L738.0,2036.9 L740.6,2057.8 L745.3,2078.3 L753.5,2097.6 L767.4,2113.4 L784.9,2124.9 L804.8,2131.8 L825.5,2135.4 L846.0,2133.0" fill="none" stroke="#000" stroke-width="7.6" stroke-linejoin="round"/>
<path d="M1346.0,925.0 L1337.0,942.1 L1328.1,959.3 L1319.2,976.5 L1310.2,993.7 L1301.1,1010.8 L1291.9,1027.8 L1282.5,1044.7 L1272.9,1061.5 L1263.1,1078.2 L1252.9,1094.7 L1242.5,1111.0 L1232.0,1127.2 L1221.3,1143.4 L1210.6,1159.5 L1199.8,1175.6 L1189.0,1191.6 L1178.2,1207.7 L1167.5,1223.8 L1156.8,1240.0 L1146.3,1256.2 L1136.0,1272.6 L1126.2,1289.3 L1117.0,1306.3 L1109.2,1324.0 L1103.1,1342.4 L1096.8,1360.7 L1088.8,1378.3 L1079.8,1395.5 L1070.5,1412.5 L1061.0,1429.3 L1051.4,1446.1 L1041.7,1462.9 L1032.1,1479.7 L1022.4,1496.4 L1012.8,1513.3 L1003.4,1530.1 L994.0,1547.1 L984.7,1564.1 L975.4,1581.1 L966.1,1598.1 L956.9,1615.1 L947.6,1632.1 L938.4,1649.1 L929.1,1666.0 L919.8,1683.0 L910.3,1699.9 L900.5,1716.6 L889.7,1732.6 L880.2,1749.5 L871.8,1766.9 L863.6,1784.5 L855.6,1802.1 L848.0,1819.9 L840.7,1837.8 L833.9,1855.9 L827.5,1874.2 L821.6,1892.7 L815.9,1911.2 L810.5,1929.7 L805.2,1948.4 L800.1,1967.0 L795.7,1985.9 L792.3,2004.9 L790.2,2024.2 L790.6,2043.5 L796.8,2061.7 L808.9,2076.6 L827.2,2082.4 L846.0,2080.0" fill="none" stroke="#000" stroke-width="6.6" stroke-linejoin="round"/>
</g>
<!-- 30_fitting.svg -->
<g id="fitting" transform="translate(1230,760) scale(0.33293)">
<!-- pipe 17 -->
<path class="k w" d="M690,292 L545,236 C480,214 420,240 382,286 L352,330 L432,348 C450,312 482,290 522,300 L668,352 Z"/>
<!-- clamp 18 -->
<path d="M300,290 C330,275 355,295 370,330 L440,345 C480,360 495,400 485,440 C470,480 440,490 410,470 L380,500 C340,515 290,505 250,470 C215,440 225,410 250,380 C260,340 275,300 300,290Z" fill="#000"/>
<path d="M310,330 C330,340 350,370 352,400 C330,400 300,380 290,355Z" fill="#fdfefc"/>
<path d="M245,440 C260,455 275,470 300,478 C290,450 270,435 250,425Z" fill="#fdfefc"/>
<path d="M425,380 C445,385 460,400 462,420 C445,425 428,410 420,395Z M415,445 C430,450 445,462 440,475 C425,470 415,460 410,452Z" fill="#fdfefc"/>
<path d="M300,485 C320,495 345,498 360,490 L350,478 C335,482 315,480 300,485Z" fill="#fdfefc"/>
<!-- banjo fitting -->
<path class="k w" d="M745,420 C800,470 900,482 1000,456 C1100,430 1200,382 1252,340 L1205,192 L1160,200 C1120,216 1050,240 975,252 L975,215 L770,215 L770,300 C750,330 740,380 745,420Z"/>
<path class="k w" d="M680,310 C668,340 668,380 690,416 L732,426 C720,390 730,330 756,290 L716,280 Z"/>
<path class="m" d="M770,300 Q786,322 766,346"/>
<path class="m" d="M950,285 Q965,292 970,300"/>
<!-- lower hex -->
<path class="k w" d="M770,215 L770,252 L860,290 L975,262 L975,215 L940,200 L810,200 Z"/>
<path class="k" d="M770,215 L860,250 L975,225 M860,250 L860,290"/>
<!-- thread between -->
<path d="M810,165 L940,162 L940,205 L810,205 Z" fill="#000"/>
<path d="M830,175 L925,172 M830,190 L925,188" stroke="#fdfefc" stroke-width="1.5" fill="none"/>
<!-- top hex nut -->
<path class="k w" d="M685,100 L685,136 L775,166 L950,160 L1035,126 L1035,85 L940,70 L790,72 Z"/>
<path class="k" d="M685,100 L775,126 L950,120 L1035,85 M775,126 L775,166 M950,120 L950,160"/>
<path d="M790,30 L960,20 L960,75 L790,78 Z" fill="#000"/>
<!-- hose end on right with clamp -->
<path class="k" d="M1150,205 L1205,190 L1255,312 L1215,342"/>
<path class="k" d="M1175,198 L1228,330"/>
<path class="m" d="M1205,190 L1245,180 L1262,225"/>
<!-- cotter pin 10 -->
<path class="h" d="M1280,120 L1300,352"/>
<path class="k w" d="M1255,232 L1320,212 C1340,215 1342,245 1330,262 L1265,275 Z"/>
<!-- leaders -->
<path class="n" d="M500,315 L690,522"/>
<path class="n" d="M380,500 L596,706"/>
<path class="n" d="M265,685 L546,940"/>
<path class="n" d="M1290,65 L1190,172"/>
</g>
<!-- 40_fan.svg -->
<g id="fan" transform="translate(1500,800) scale(0.33293)">
<!-- outer rim -->
<path class="h" d="M1100,255 C1230,380 1378,700 1390,1000 C1398,1250 1300,1480 1050,1592 C950,1632 850,1646 780,1640"/>
<path class="m" d="M1125,250 C1262,380 1408,700 1416,1000 C1420,1120 1400,1240 1370,1320"/>
<path class="m" d="M1150,280 C1270,420 1390,700 1402,960"/>
<!-- back plate (12) -->
<path class="k" d="M1410,0 C1470,60 1500,140 1482,220 C1462,300 1400,350 1340,390 L1272,430"/>
<path class="m" d="M1385,10 C1440,70 1462,150 1446,210 C1426,280 1370,330 1310,370 L1250,396"/>
<path class="n" d="M1190,215 L1280,322"/>
<ellipse class="k" cx="1330" cy="105" rx="32" ry="42" transform="rotate(15 1330 105)"/>
<path class="m" d="M1318,75 Q1305,105 1320,140"/>
<!-- washer 4 -->
<ellipse class="h w" cx="1222" cy="135" rx="40" ry="56" transform="rotate(15 1222 135)"/>
<ellipse class="k" cx="1232" cy="136" rx="20" ry="34" transform="rotate(15 1232 136)"/>
<!-- washer 3 -->
<ellipse cx="1110" cy="176" rx="40" ry="52" fill="#fdfefc" stroke="#000" stroke-width="7" transform="rotate(15 1110 176)"/>
<ellipse cx="1118" cy="178" rx="18" ry="30" fill="none" stroke="#000" stroke-width="4.5" transform="rotate(15 1118 178)"/>
<path class="k" d="M980,128 L1000,140"/>
<!-- holes -->
<ellipse class="k" cx="1130" cy="352" rx="28" ry="40" transform="rotate(10 1130 352)"/>
<path class="m" d="M1120,335 L1142,372"/>
<ellipse class="k" cx="1325" cy="1140" rx="30" ry="42"/>
<path class="m" d="M1318,1110 Q1335,1140 1322,1175"/>
<ellipse class="k" cx="822" cy="1572" rx="22" ry="28"/>
<!-- bolt 11 -->
<path class="k w" d="M825,245 L1020,182 C1040,180 1048,200 1040,220 L840,300 Z"/>
<path d="M900,222 L1020,182 C1040,180 1048,200 1040,220 L915,270 Z" fill="#000"/>
<path d="M922,222 L934,256 M946,214 L958,247 M970,206 L982,238 M994,198 L1006,229" stroke="#fdfefc" stroke-width="2.2" fill="none"/>
<path class="k w" d="M700,270 L730,232 L790,222 L830,250 L842,310 L810,350 L750,358 L712,330 Z"/>
<path class="m" d="M730,232 L770,262 L830,250 M770,262 L775,350"/>
<!-- volute top -->
<path class="k" d="M530,80 C650,40 800,40 940,96"/>
<path class="k" d="M520,214 C600,182 700,180 770,194"/>
<path class="m" d="M546,290 Q620,290 690,312"/>
<!-- left side -->
<path class="k" d="M270,315 C220,420 186,560 178,692"/>
<path class="k" d="M470,300 C350,380 250,480 200,580 C190,610 182,650 178,690"/>
<!-- face ribs -->
<path class="m" d="M790,390 Q830,420 852,462"/>
<path class="m" d="M950,356 C1000,400 1060,500 1092,572"/>
<path class="m" d="M980,290 C1050,340 1110,420 1152,512"/>
<path class="m" d="M905,530 C960,620 1010,760 1030,882"/>
<path class="m" d="M1120,640 C1160,750 1190,850 1200,932"/>
<path class="m" d="M1205,630 C1250,750 1280,880 1286,992"/>
<path class="m" d="M865,680 C920,790 950,900 962,992"/>
<path class="m" d="M1055,940 C1060,1080 1050,1200 1010,1300"/>
<path class="m" d="M955,1060 C950,1150 920,1250 880,1312"/>
<path class="m" d="M1200,1050 C1200,1150 1180,1270 1140,1342"/>
<path class="m" d="M1270,1110 C1260,1250 1220,1380 1150,1452"/>
<path class="k" d="M1150,1396 C1100,1480 1020,1530 940,1552"/>
<path class="m" d="M1075,1426 C1000,1470 900,1490 790,1482"/>
<path class="m" d="M800,1372 L832,1358"/>
<path class="m" d="M750,680 C800,790 860,950 870,1100"/>
<path class="m" d="M776,676 C830,800 880,950 892,1092"/>
<path class="m" d="M882,1060 C890,1150 860,1260 790,1332"/>
<path class="m" d="M860,1082 C860,1180 830,1270 770,1322"/>
<path class="m" d="M520,520 C600,520 680,560 722,602"/>
<path class="m" d="M640,540 C700,560 760,590 795,598"/>
<!-- inner opening -->
<path class="h" d="M340,662 C400,560 500,500 600,500 C680,505 750,552 800,596"/>
<path class="h" d="M490,650 C600,662 700,780 730,930 C750,1080 720,1200 650,1272 L500,1330"/>
<!-- motor body -->
<path class="k" d="M180,706 L380,656 L490,650"/>
<path class="k" d="M280,682 C380,692 470,760 520,842 C580,950 600,1050 590,1142"/>
<path class="m" d="M470,760 C540,860 570,980 575,1100"/>
<path class="k w" d="M368,852 L400,802 L600,760 C622,770 612,792 590,802 L380,856 Z"/>
<path class="k w" d="M458,1190 L470,1170 L560,1160 L575,1185 L540,1200 L520,1285 L500,1215 Z"/>
<path d="M600,1150 L690,1118 L680,1150 L610,1180 Z" fill="#000" stroke="#000" stroke-width="3"/>
<path class="k" d="M585,1085 L585,1140 L690,1115"/>
<path class="k" d="M170,1382 L270,1376 L500,1330"/>
<path class="m" d="M530,1352 C600,1390 680,1390 755,1385 M700,1360 L725,1352"/>
<!-- motor front face -->
<path class="m" d="M20,775 Q80,745 150,725"/>
<path class="m" d="M190,790 Q250,840 290,920"/>
<path class="m" d="M235,770 Q280,810 310,850"/>
<path class="m" d="M340,900 C380,1000 400,1100 400,1160"/>
<path class="m" d="M352,1200 Q350,1280 320,1340"/>
<path class="m" d="M390,1180 Q395,1240 370,1290"/>
<path class="m" d="M290,1300 Q260,1340 220,1355"/>
<path class="m" d="M5,1110 Q30,1180 90,1200"/>
<path class="m" d="M0,1010 Q10,960 50,930"/>
<path class="m" d="M120,900 Q190,910 225,950"/>
<path class="m" d="M60,975 Q100,960 130,980"/>
<path class="m" d="M262,1100 Q250,1160 200,1200"/>
<path class="m" d="M190,1070 Q195,1140 150,1190"/>
<path class="m" d="M185,1215 Q200,1230 225,1220"/>
<ellipse class="k" cx="118" cy="812" rx="20" ry="26" transform="rotate(15 118 812)"/>
<ellipse class="k" cx="186" cy="1312" rx="24" ry="30" transform="rotate(15 186 1312)"/>
<path d="M230,985 C240,960 280,950 310,965 C335,985 340,1030 325,1060 C310,1075 285,1070 270,1050 L250,1030 C235,1015 225,1000 230,985Z" fill="#000"/>
<path class="m" d="M180,1025 Q185,1055 215,1050"/>
<!-- bottom outlet -->
<path class="h" d="M152,1392 L156,1560"/>
<path class="k" d="M122,1560 C110,1600 130,1640 162,1655"/>
<path class="k" d="M530,1500 C560,1470 620,1460 660,1466"/>
<path class="k" d="M520,1560 C560,1500 640,1490 700,1500"/>
<path class="k" d="M640,1560 C680,1540 760,1530 882,1536"/>
<path class="k" d="M640,1560 C650,1600 640,1630 620,1652"/>
<path class="k" d="M700,1570 C740,1620 780,1640 820,1650"/>
<!-- arrow squiggle -->
<path class="h" d="M30,1330 L55,1350 L50,1380 L80,1400 L75,1430 L110,1455"/>
<path d="M85,1440 L130,1450 L105,1470 Z" fill="#000" stroke="#000" stroke-width="3"/>
</g>
<g id="hub">
<path class="k" d="M1552,1038 C1512,1046 1484,1098 1484,1150 C1488,1216 1514,1256 1552,1260 L1585,1252"/>
<path class="m" d="M1500,1075 C1492,1100 1490,1130 1492,1150"/>
</g>
<!-- 41_fanright.svg -->
<g id="fanright" transform="translate(1765,780) scale(0.33293)">
<!-- washer 14 -->
<ellipse cx="640" cy="676" rx="38" ry="46" fill="#000" stroke="#000" stroke-width="4"/>
<ellipse cx="646" cy="672" rx="14" ry="20" fill="#fdfefc"/>
<path d="M640,666 L650,682" class="m"/>
<!-- screw 13 -->
<path class="k w" d="M712,640 C705,655 708,680 720,690 L800,672 L800,615 Z"/>
<ellipse class="k w" cx="832" cy="628" rx="36" ry="52" transform="rotate(10 832 628)"/>
<ellipse class="k" cx="818" cy="630" rx="20" ry="34" transform="rotate(10 818 630)"/>
<path d="M745,632 L800,618 L800,672 L745,684 Z" fill="#000"/>
<ellipse cx="728" cy="660" rx="10" ry="14" fill="#fdfefc" stroke="#000" stroke-width="3"/>
<!-- leaders -->
<path class="n" d="M610,400 L1020,518"/>
<path class="n" d="M780,680 L1045,766"/>
<path class="n" d="M655,725 L1040,996"/>
<path class="n" d="M590,1316 L1030,1268"/>
<path class="n" d="M1100,398 L1280,398 L1280,1336 L1110,1336 M1280,880 L1330,880"/>
</g>
<g id="fanlead">
<path class="n" d="M1838,792 L1800,866"/>
<path class="n" d="M1926,756 L1878,842"/>
<path class="n" d="M1975,757 L1915,836"/>
</g>
<!-- 50_hosemid.svg -->
<g id="hosemid" transform="translate(1000,1080) scale(0.33293)">
<!-- bracket 31 -->
<path class="k w" d="M380,620 L640,626 L650,662 L556,802 L300,790 C240,780 200,742 202,690 C204,670 215,655 230,640"/>
<path d="M378,612 L640,620 L648,650 L385,640 Z" fill="#000"/>
<ellipse cx="510" cy="736" rx="40" ry="27" fill="#000" transform="rotate(-15 510 736)"/>
<ellipse cx="512" cy="736" rx="24" ry="13" fill="url(#stw)" transform="rotate(-15 512 736)"/>
<path class="m" d="M325,590 L345,625"/>
<!-- bolt 28 -->
<path d="M598,768 L625,760 L668,845 L640,858 Z" fill="#000" stroke="#000" stroke-width="3"/>
<path class="k" d="M500,815 L530,900 M575,800 L610,870"/>
<!-- washer 30 -->
<ellipse class="h w" cx="608" cy="985" rx="108" ry="82" transform="rotate(-20 608 985)"/>
<path d="M530,900 C545,875 585,870 605,890 L600,930 C570,925 545,945 530,975 C520,950 520,920 530,900Z" fill="#000"/>
<path d="M565,985 C580,960 640,955 655,980 L650,1050 L600,1060 L580,1030 Z" fill="#000"/>
<path d="M600,1000 L640,995 L642,1040 L612,1045 Z" fill="url(#stw)"/>
<!-- bolt head 29 -->
<ellipse class="k w" cx="648" cy="1108" rx="84" ry="60" transform="rotate(-12 648 1108)"/>
<path class="m" d="M585,1110 C595,1140 640,1150 690,1140"/>
<!-- nut 32 -->
<path d="M270,210 C285,180 330,165 365,185 C385,200 385,230 375,250 C360,275 320,285 290,270 C268,255 262,230 270,210Z" fill="#000"/>
<ellipse cx="330" cy="222" rx="32" ry="24" fill="#fdfefc" transform="rotate(-15 330 222)"/>
<ellipse cx="325" cy="235" rx="26" ry="18" fill="#000" transform="rotate(-15 325 235)"/>
<!-- washer 3 (near 32) -->
<ellipse cx="362" cy="318" rx="52" ry="42" fill="#000" transform="rotate(-20 362 318)"/>
<ellipse cx="372" cy="305" rx="18" ry="10" fill="#fdfefc" transform="rotate(-20 372 305)"/>
<!-- bolt 2 -->
<path class="k w" d="M1210,545 L1370,505 C1388,510 1390,540 1380,562 L1225,612 Z"/>
<path d="M1240,538 L1370,505 C1388,510 1390,540 1380,562 L1252,604 Z" fill="#000"/>
<path d="M1262,545 Q1258,570 1270,592 M1288,538 Q1284,562 1296,584 M1314,531 Q1310,555 1322,576 M1340,524 Q1336,547 1348,568" stroke="#fdfefc" stroke-width="2.2" fill="none"/>
<path class="k w" d="M1100,560 C1090,600 1095,640 1115,665 L1150,678 L1205,655 L1225,612 L1210,545 L1160,528 Z"/>
<path class="m" d="M1160,528 L1180,590 L1225,612 M1180,590 L1150,678"/>
<!-- washer 3 (near bolt 2) -->
<ellipse cx="1455" cy="512" rx="46" ry="58" fill="#fdfefc" stroke="#000" stroke-width="7" transform="rotate(-12 1455 512)"/>
<ellipse cx="1448" cy="512" rx="22" ry="34" fill="none" stroke="#000" stroke-width="4.5" transform="rotate(-12 1448 512)"/>
<!-- leaders -->
<path class="n" d="M165,290 L270,246"/>
<path class="n" d="M140,510 L320,342"/>
<path class="n" d="M650,850 L810,876"/>
<path class="n" d="M725,1116 L810,1086"/>
<path class="n" d="M440,816 L360,1040"/>
<path class="n" d="M545,1070 L360,1290"/>
<path class="n" d="M1282,600 L1282,800"/>
<path class="n" d="M1462,570 L1500,800"/>
</g>
<!-- 55_corr.svg -->
<g id="corr" transform="translate(1200,1300) scale(0.5)">
<path class="m" d="M680.0,235.0 L678.2,238.7 L676.2,243.1 L674.4,248.3 L673.1,254.1 L672.9,260.5 L673.9,267.5 L675.9,274.9 L678.3,282.7 L680.2,290.7 L680.6,298.7 L679.2,306.7 L676.2,314.5 L672.3,322.2 L668.6,329.6 L665.9,337.1 L664.9,345.0 L665.6,353.1 L667.6,361.5 L669.8,370.1 L671.1,378.7 L670.6,387.3 L667.9,395.7 L663.6,404.0 L658.8,412.4 L655.0,421.0 L653.2,430.2 L653.8,439.9 L655.6,450.1 L657.1,460.6 L656.5,470.9 L652.8,480.8 L646.8,490.4 L640.7,500.1 L636.7,510.4 L635.9,521.7 L637.4,533.5 L638.5,545.5 L636.9,556.9 L631.7,567.4 L624.5,577.4 L618.3,587.6 L615.1,598.6 L615.1,610.7 L616.2,623.3 L615.5,635.5 L610.8,646.8 L603.1,657.2 L595.5,667.6 L590.8,679.0 L590.0,691.6 L590.8,704.7 L589.8,717.1 L585.1,728.2 L577.6,738.2 L569.9,747.9 L564.8,758.3 L563.1,769.5 L563.5,781.3 L563.4,792.9 L560.9,803.6 L555.3,813.0 L547.9,821.7 L540.9,830.4 L536.3,839.9 L534.5,850.3 L534.6,861.4 L534.4,872.4 L532.3,882.6 L527.4,891.8 L520.4,900.1 L513.2,908.4 L507.8,917.4 L505.0,927.3 L504.6,938.0 L504.7,949.0 L503.5,959.3 L499.7,968.7 L493.5,977.0 L486.3,984.8 L479.9,992.9 L475.7,1001.6 L473.9,1011.2 L473.5,1021.3 L473.2,1031.3 L471.4,1040.6 L467.4,1048.7 L461.7,1055.8 L455.0,1062.3 L448.7,1068.8 L443.7,1075.7 L440.5,1083.5 L438.9,1092.0 L438.2,1101.0 L437.5,1109.9 L435.5,1118.4 L431.8,1126.1 L426.3,1133.1 L419.6,1139.8 L413.0,1146.8 L407.9,1154.5 L404.8,1163.2 L403.8,1172.7 L403.5,1182.7 L402.7,1192.5 L400.1,1201.5 L395.1,1209.6 L388.5,1217.0 L381.6,1224.3 L375.9,1232.1 L372.4,1240.8 L371.0,1250.3 L370.8,1260.3 L370.2,1270.2 L367.9,1279.3 L363.4,1287.6 L356.9,1295.1 L349.9,1302.4 L343.9,1310.1 L339.9,1318.6 L338.2,1328.0 L337.9,1337.9 L337.4,1347.8 L335.6,1357.0 L331.5,1365.3 L325.6,1372.6 L318.9,1379.5 L312.5,1386.7 L307.6,1395.0 L305.0,1404.6 L304.2,1415.1 L303.7,1425.8 L301.7,1435.8 L297.3,1444.4 L291.0,1451.9 L284.2,1458.7 L278.3,1465.2 L274.1,1471.7 L271.6,1478.1 L270.4,1484.0 L269.9,1489.1"/>
<path class="m" d="M1045.0,250.0 L1045.7,253.4 L1046.3,257.4 L1046.8,261.9 L1046.9,266.8 L1046.3,272.1 L1044.7,277.6 L1042.2,283.2 L1038.8,289.0 L1035.0,295.0 L1031.4,301.2 L1028.6,307.8 L1027.1,314.8 L1027.1,322.2 L1028.2,329.7 L1029.9,337.4 L1031.3,345.2 L1031.7,353.0 L1030.4,360.7 L1027.4,368.4 L1023.1,376.1 L1018.6,384.0 L1015.1,392.2 L1013.6,401.0 L1014.3,410.4 L1016.5,420.3 L1018.6,430.4 L1018.8,440.6 L1016.3,450.6 L1011.2,460.7 L1005.6,471.5 L1002.4,483.0 L1003.1,495.4 L1006.5,508.4 L1008.9,521.5 L1007.0,534.3 L1001.3,546.7 L995.2,558.9 L992.4,571.4 L993.8,584.3 L996.7,597.3 L997.4,609.6 L994.3,620.9 L988.4,631.1 L982.0,640.8 L977.5,650.7 L976.0,661.1 L976.6,672.0 L977.6,683.0 L976.9,693.4 L973.4,703.0 L967.4,711.7 L960.5,720.2 L954.8,729.0 L951.5,738.7 L950.8,749.3 L951.5,760.5 L951.3,771.6 L948.4,781.9 L942.5,791.4 L935.0,800.4 L928.3,809.6 L924.3,819.8 L923.4,831.1 L923.7,842.7 L922.9,853.9 L919.4,864.0 L913.2,872.9 L905.8,881.0 L899.3,889.2 L895.0,898.0 L893.1,907.4 L892.6,917.1 L892.1,926.6 L890.4,935.5 L886.9,943.3 L881.7,950.2 L875.3,956.4 L868.9,962.5 L863.3,969.0 L859.4,976.4 L857.2,984.7 L856.4,993.7 L855.9,1002.9 L854.6,1012.0 L851.4,1020.4 L846.1,1027.9 L839.5,1034.9 L832.7,1042.0 L827.3,1049.6 L823.9,1058.2 L822.6,1067.8 L822.4,1077.7 L821.8,1087.6 L819.4,1096.8 L814.7,1105.1 L808.1,1112.6 L801.1,1120.1 L795.2,1128.1 L791.6,1137.1 L790.3,1147.2 L790.3,1157.8 L789.9,1168.3 L787.3,1178.0 L782.0,1186.8 L775.0,1195.0 L767.9,1203.1 L762.7,1212.0 L760.2,1221.7 L759.7,1232.2 L759.7,1242.9 L758.4,1252.9 L754.7,1261.9 L748.9,1269.8 L742.0,1277.0 L735.6,1284.2 L730.8,1292.0 L728.2,1300.6 L727.2,1309.9 L726.9,1319.4 L726.0,1328.8 L723.3,1337.5 L718.4,1345.4 L711.8,1352.8 L704.7,1360.3 L698.8,1368.6 L695.4,1378.2 L694.5,1389.5 L694.6,1402.2 L692.7,1414.8 L686.5,1426.3 L677.3,1437.1 L669.1,1448.3 L665.1,1461.0 L664.9,1474.6 L664.8,1487.7 L662.0,1499.0 L656.3,1508.3 L649.7,1516.1 L644.1,1522.7 L640.3,1528.3"/>
<!-- top collar -->
<path class="k" d="M678,40 L680,232"/>
<path class="k" d="M1048,150 L1048,246"/>
<path class="k" d="M1040,40 L1050,130"/>
<path class="k" d="M680,42 C700,90 760,125 830,128 C900,130 960,115 1010,96"/>
<path class="m" d="M700,85 Q740,120 800,132"/>
<path class="k" d="M1010,96 Q1005,60 1030,35 Q1045,40 1048,60"/>
<path class="m" d="M680,230 Q780,285 870,280"/>
<path class="m" d="M895,280 L960,270"/>
<path class="m" d="M985,265 L1045,246"/>
<!-- lower collar -->
<path class="m" d="M300,1470 Q330,1512 386,1536"/>
<path class="m" d="M430,1560 Q500,1592 600,1590"/>
<path class="k" d="M272,1490 L232,1640"/>
<path class="k" d="M645,1530 L600,1600"/>
</g>
<!-- 60_pump.svg -->
<g id="pump" transform="translate(720,1700) scale(0.33293)">
<!-- hose clamp -->
<path d="M370,1135 C420,1130 460,1170 470,1230 C475,1270 460,1295 430,1300 L385,1305 C400,1250 395,1190 370,1135Z" fill="#fdfefc" stroke="#000" stroke-width="4"/>
<path class="k" d="M400,1150 L420,1185 M418,1180 L435,1215 M428,1215 L445,1250 M430,1250 L448,1285 M440,1150 L455,1180"/>
<path d="M470,1160 C500,1150 520,1180 525,1220 L500,1260 L470,1250 Z" fill="#000"/>
<!-- loop bracket behind -->
<path class="m" d="M470,930 C380,940 290,980 268,1030 C255,1070 290,1080 350,1070"/>
<path class="m" d="M315,1015 Q350,1030 380,1030"/>
<!-- nut left -->
<path class="k w" d="M345,1060 L370,1015 L440,1000 L490,1030 L500,1080 L470,1120 L400,1130 L355,1105 Z"/>
<path class="m" d="M370,1015 L410,1045 L490,1030 M410,1045 L425,1125"/>
<path class="m" d="M500,1040 Q530,1060 530,1100"/>
<!-- pump neck -->
<path class="m w" d="M535,945 L535,1170 L805,1170 L805,945 Z"/>
<path class="m" d="M535,975 C600,1000 740,1000 805,972"/>
<path class="m" d="M725,1000 L722,1170"/>
<path class="m" d="M640,1090 Q680,1120 695,1165"/>
<!-- fitting dark parts -->
<path d="M520,1130 C540,1090 600,1085 625,1120 C650,1160 650,1220 620,1250 C590,1265 540,1250 520,1210 Z" fill="#fdfefc" stroke="#000" stroke-width="4.5"/>
<path d="M560,1120 C590,1110 615,1140 618,1180 C620,1215 605,1235 580,1235 C560,1210 555,1160 560,1120Z" fill="#000"/>
<path d="M500,1150 L545,1140 L560,1235 L515,1245 Z" fill="#fdfefc" stroke="#000" stroke-width="4"/>
<path d="M520,1160 L540,1155 L550,1225 L530,1230Z" fill="#000"/>
<!-- upper cylinder -->
<path class="k w" d="M445,330 C450,290 520,262 600,258 L700,255 C800,258 900,285 908,330 L908,720 C880,770 780,790 680,790 C570,790 470,770 445,720 Z"/>
<path class="k w" d="M468,745 L465,900 C500,950 600,962 680,960 C770,960 860,940 885,892 L885,745"/>
<path class="k" d="M445,720 C470,770 570,790 680,790 C780,790 880,770 908,720"/>
<path class="m" d="M460,345 Q485,355 522,348"/>
<path class="m" d="M470,402 Q495,412 526,408"/>
<path class="m" d="M600,360 L740,358"/>
<path class="m" d="M600,420 L726,416"/>
<path class="m" d="M790,355 Q850,345 896,322"/>
<path class="m" d="M810,415 Q860,405 896,386"/>
<!-- terminal -->
<path class="k w" d="M548,290 L550,245 C560,225 580,215 585,190 L570,150 L590,130 L595,95 C605,82 625,82 635,95 L640,130 L660,150 L650,190 C655,215 675,225 680,250 L682,295 C640,310 590,310 548,290Z"/>
<path class="k" d="M570,150 L660,150 M590,130 L640,130 M585,190 L650,190 M595,110 L635,110"/>
<path class="m" d="M560,290 Q610,305 670,295"/>
<!-- base plate -->
<path class="m w" d="M520,1262 L620,1292 L880,1216 L905,1240 L900,1400 L840,1420 L610,1400 L612,1300"/>
<path class="m" d="M560,1250 L620,1270 L870,1200"/>
<path class="m" d="M612,1300 L610,1400 Q640,1430 680,1420"/>
<!-- leg bracket -->

<!-- right pipe and nut -->
<path class="m w" d="M810,1040 L940,1020 L1000,1035 L1005,1130 L940,1150 L860,1140 Z"/>
<path d="M865,1045 C890,1035 920,1050 930,1090 C935,1120 925,1140 905,1145 C880,1130 865,1090 865,1045Z" fill="#000"/>
<path class="m" d="M850,1045 Q875,1090 880,1140"/>
<path class="m w" d="M1040,1090 L1180,1130 C1260,1150 1272,1200 1250,1262 L1212,1372 L1160,1362 L1200,1262 C1216,1220 1210,1186 1160,1172 L1030,1142 Z"/>
<!-- cotter pin -->
<path class="k w" d="M992,955 L1015,952 L1030,1160 L1008,1162 Z"/>
<path class="m w" d="M1000,1030 L1035,1025 C1055,1035 1055,1070 1040,1085 L1005,1090Z"/>
<!-- heater top line (left) -->
<path class="m" d="M0,1545 L610,1396"/>
</g>

<g id="pumpleg">
<path class="m w" d="M968,2124 L942,2176 L918,2230 L910,2237 L884,2245 L911,2288 L945,2278 L953,2266 L994,2176 L1014,2118 L1008,2106 Z"/>
<path class="m" d="M949,2263 L990,2176 L1010,2118"/>
<path d="M882,2244 L886,2243 L913,2284 L945,2275 L946,2279 L911,2290 Z" fill="#000" stroke="#000" stroke-width="2"/>
<path class="m" d="M919,2242 Q933,2252 937,2265"/>
</g>
<!-- 70_heater.svg -->
<g id="heaterR" transform="translate(1050,2020) scale(0.33293)">
<!-- heater top near right end -->
<path class="m" d="M-150,330 C-50,330 100,355 200,420"/>
<!-- rim right end -->
<path class="m" d="M200,420 C330,540 450,720 500,900 C525,1000 530,1150 525,1290"/>
<path class="m" d="M250,440 C400,560 520,740 560,900 C590,1020 590,1180 562,1300"/>
<path class="m" d="M300,490 C450,640 540,820 565,1000 C570,1100 560,1200 545,1290"/>
<!-- clamp bolt -->
<path class="m w" d="M380,350 C390,320 430,310 470,325 C500,345 500,400 480,425 L430,440 Z"/>
<path class="m w" d="M240,370 C260,335 320,325 350,345 L450,490 L445,545 L410,570 L300,470 L240,420 Z"/>
<path class="m" d="M260,420 C280,395 300,395 320,410 L400,505 L410,570 M400,505 L450,490"/>
<path class="m" d="M225,410 L300,470"/>
<!-- small pipe from pump -->
<path class="m w" d="M50,130 L200,180 C260,200 276,240 260,290 L225,410 L170,400 L210,300 C220,260 210,236 170,222 L40,180 Z"/>
<path class="k w" d="M5,-10 L30,-10 L40,200 L18,204 Z"/>
<path class="m w" d="M20,70 L50,68 C68,80 66,110 52,125 L22,128Z"/>
<!-- dome -->
<path class="m" d="M475,650 C500,636 540,640 570,655 C640,700 700,800 715,920 C722,1000 706,1060 690,1100 L585,1166"/>
<!-- elbow pipe -->
<path class="m" d="M570,645 C640,620 690,580 720,520 L810,282"/>
<path class="m" d="M690,740 L790,650 L870,480 L912,370 L950,350"/>
<path class="m" d="M700,802 L830,700 L900,500 L960,352"/>
<path class="m" d="M680,770 L700,802 M690,740 L680,770"/>
<path class="m" d="M690,1100 C800,1050 900,1000 980,960 C1080,900 1150,780 1200,600 L1280,432"/>
<!-- hose collar bottom -->
<path class="m" d="M900,0 L830,150 C815,190 812,220 816,242"/>
<path class="k" d="M816,242 C880,330 1000,390 1100,402 C1180,415 1250,420 1290,420"/>
<path class="m" d="M816,285 Q830,330 875,362"/>
<path class="m" d="M940,406 L1050,442"/>
<path class="m" d="M1115,466 Q1200,475 1272,462 L1290,420"/>
<path class="m" d="M906,40 Q960,110 1030,146"/>
<path class="m" d="M1100,186 Q1230,230 1350,214"/>
<path class="m" d="M1470,0 C1470,40 1460,80 1430,110 C1400,130 1410,170 1420,200 L1290,420"/>
<!-- bracket (right mount) -->
<path class="m w" d="M150,1300 L330,1250 L745,1352 L750,1600 L725,1610 L530,1560 L525,1652 L60,1652 C110,1520 130,1400 150,1300 Z"/>
<path class="m" d="M745,1352 L520,1402 L510,1650"/>
<path class="m" d="M725,1368 L532,1420 L528,1652"/>
<path class="m" d="M725,1368 L725,1610"/>
<path class="m" d="M530,1552 Q620,1540 722,1590"/>
<ellipse class="m" cx="360" cy="1298" rx="50" ry="20"/>
<path class="m" d="M180,1315 L255,1335 M325,1352 L468,1390"/>
</g>
<g id="heaterL" transform="translate(100,2150) scale(0.5)">
<!-- top line of cylinder -->
<path class="m" d="M540,292 L1652,28 L1800,-5"/>
<path class="m" d="M560,282 L722,265"/>
<!-- dome outline -->
<path class="m" d="M540,292 C440,310 350,400 300,520 C270,620 275,780 320,920 L352,1005"/>
<!-- rim -->
<path class="m" d="M725,265 C800,275 900,380 970,520 C1030,650 1050,820 1025,960 C1005,1060 960,1130 900,1170"/>
<path class="m" d="M880,380 C930,460 980,560 1000,660"/>
<!-- dome inner arcs -->
<path class="m" d="M415,385 C470,340 560,320 620,336 C650,350 665,380 672,405"/>
<path class="m" d="M555,300 C620,310 670,330 700,360"/>
<path class="m" d="M775,450 C810,500 840,570 860,640"/>
<path class="m" d="M765,510 C800,570 830,640 850,700"/>
<path class="m" d="M910,745 C925,820 930,900 920,980"/>
<path class="m" d="M870,790 C880,860 880,940 850,1020"/>
<path class="m" d="M820,1060 C810,1100 790,1130 760,1150"/>
<!-- bottom of dome -->
<path class="m" d="M560,1192 C620,1205 750,1192 850,1162 L920,1125"/>
<!-- elbow ring of vertical pipe -->
<path class="m" d="M570,655 C620,670 650,720 660,800 C660,840 650,862 630,876"/>
<path class="m w" d="M525,690 C560,680 590,690 610,720 C640,780 640,840 600,880 L380,922 L335,880 Z"/>
<!-- vertical pipe -->
<path class="m w" d="M335,440 L335,880 C350,915 380,925 400,920 C460,900 510,800 525,700 L525,440 Z"/>
<ellipse class="m w" cx="430" cy="445" rx="100" ry="30"/>
<ellipse class="m w" cx="430" cy="422" rx="102" ry="34"/>
<path class="m" d="M345,470 C380,495 480,495 520,470"/>
<!-- horizontal pipe -->
<path class="m w" d="M165,958 L480,1035 L440,1212 L140,1150 Z"/>
<path class="m w" d="M165,958 C135,955 100,1000 95,1050 C90,1100 110,1145 140,1150 C170,1150 200,1110 205,1060 C210,1010 195,965 165,958Z"/>
<path class="m" d="M180,955 C150,952 112,1000 108,1050 C104,1100 122,1140 150,1148"/>
<path class="m" d="M540,1010 C600,1030 630,1090 640,1150 C640,1180 630,1200 610,1210"/>
<path class="m w" d="M480,1035 C540,1020 600,1060 612,1120 C620,1170 590,1210 540,1215 L460,1222 C420,1215 395,1170 405,1120 C415,1070 445,1040 480,1035Z"/>
<path class="m" d="M560,1000 C600,1010 640,1050 650,1100"/>
<!-- small lug -->
<path class="m w" d="M680,735 L740,715 L835,755 L840,780 L830,825 L745,800 L740,772 Z"/>
<path class="m" d="M680,735 L770,770 L835,755 M740,772 L770,770"/>
<ellipse class="m" cx="738" cy="735" rx="16" ry="9"/>
<!-- bottom foot -->
<path class="m w" d="M575,1225 L580,1282 C600,1302 680,1302 705,1282 L705,1232"/>
<!-- mounting bracket left -->
<path class="m w" d="M1075,850 L1245,805 L1480,870 L1490,1020 L1475,1026 L1340,1000 L1335,1065 L1320,1062 L1260,1060 L1200,1130 L1060,1165 L905,1215 L900,1172 C950,1150 1000,1115 1030,1070 C1062,1020 1072,950 1075,850Z"/>
<path class="m" d="M1050,1140 L1110,1060 M1050,1140 L1060,1165"/>
<path class="m" d="M1480,870 L1330,905 L1320,1062"/>
<path class="m" d="M1465,885 L1342,918 L1336,1062 M1465,885 L1472,1022"/>
<path class="m" d="M1340,1000 Q1400,985 1470,1015"/>
<ellipse class="m" cx="1228" cy="842" rx="30" ry="14"/>
<path class="m" d="M1110,1060 L1230,1040"/>
<path d="M1085,1085 L1100,1065 L1105,1080 Z" fill="#000"/>
<!-- bottom line -->
<path class="m" d="M1340,1012 L1560,977"/>
</g>
<!-- 71_heaterB.svg -->
<g id="heaterB" transform="translate(800,2150) scale(0.5)">
<!-- right bracket leg lower -->
<path class="w" d="M595,612 C575,700 540,850 420,940 L412,950 L428,1008 C445,1025 480,1020 490,1000 L488,968 L575,925 L640,880 C680,850 720,830 760,826 L840,830 L850,682 L735,640 Z"/>
<path class="m" d="M595,612 C575,700 540,850 420,940 L412,950 L428,1008 C445,1025 480,1020 490,1000 L488,968 L575,925 L640,880 C680,850 720,830 760,826 L840,830"/>
<path class="m" d="M570,900 L620,842 C650,812 700,800 742,810"/>
<path d="M612,860 L632,838 L636,850 Z" fill="#000" stroke="#000" stroke-width="2"/>
<!-- heater bottom line -->
<path class="m" d="M90,1006 L420,942"/>
<!-- plug -->
<path class="m w" d="M178,985 L180,1040 L165,1050 L168,1085 L190,1105 L275,1105 L298,1085 L298,1050 L285,1040 L288,965 Z"/>
<path class="m" d="M180,1040 Q230,1055 285,1040 M168,1060 L190,1072 L275,1072 L298,1060 M190,1072 L190,1105 M275,1072 L275,1105"/>
<!-- left bracket edge -->
<path class="m" d="M0,852 L80,872 L90,1010 L75,1022 L0,1002"/>
</g>
<!-- 80_xfan.svg -->
<g id="xfanU" transform="translate(1450,2400) scale(0.33293)">
<!-- flange plate 20 -->
<path class="k w" d="M120,520 C110,400 180,270 320,248 C480,240 680,420 780,700 C850,900 810,1100 700,1170 C620,1210 500,1190 390,1120 L300,900 Z"/>
<path class="h" d="M500,310 C640,400 760,600 800,800 C830,950 800,1080 740,1140" style="stroke-width:7"/>
<path class="k" d="M190,500 C200,400 260,340 340,340 C500,340 660,500 730,740 C780,900 760,1050 700,1100 C640,1140 540,1120 450,1080"/>
<path class="m" d="M300,420 Q280,480 290,540"/>
<path class="m" d="M410,390 Q400,450 420,520"/>
<path class="m" d="M440,400 C520,440 600,520 640,600"/>
<path class="m" d="M560,480 C540,540 560,640 620,690 C660,710 700,710 720,700"/>
<path class="m" d="M590,500 C580,560 600,640 650,680"/>
<path class="m" d="M390,600 C410,680 450,740 500,780"/>
<path class="m" d="M450,600 C470,680 510,730 550,760"/>
<path class="m" d="M540,830 C600,850 680,850 730,830"/>
<path class="m" d="M590,800 Q640,810 700,800"/>
<path class="m" d="M520,1000 C580,1020 660,1010 720,980"/>
<path class="m" d="M460,1085 C540,1110 640,1100 700,1060"/>
<path class="m" d="M735,760 C760,850 760,950 735,1030"/>
<circle class="b" cx="335" cy="300" r="20"/><circle class="b" cx="495" cy="522" r="20"/><circle class="b" cx="655" cy="525" r="20"/>
<circle class="b" cx="620" cy="750" r="20"/><circle class="b" cx="775" cy="965" r="20"/><circle class="b" cx="555" cy="1140" r="20"/>
<!-- motor 21 -->
<path class="k w" d="M810,300 C830,250 860,235 900,225 L1110,105 C1180,95 1260,160 1310,260 C1340,320 1340,380 1310,420 L1010,600 C940,620 880,560 850,500 C820,440 800,360 810,300Z"/>
<path class="k" d="M1290,195 C1330,260 1340,340 1320,400"/>
<path class="m" d="M990,290 Q1040,330 1060,400"/>
<path class="m" d="M1040,260 Q1100,300 1120,380"/>
<path class="m" d="M1150,230 Q1200,300 1210,400 Q1210,440 1200,470"/>
<path class="m" d="M980,590 Q1040,620 1090,570"/>
<path class="m" d="M1030,170 Q1080,180 1110,210"/>
<path class="m" d="M950,380 Q980,400 990,440"/>
<path class="m" d="M900,360 Q920,390 920,430"/>
<path class="k w" d="M790,480 L900,430 L915,455 L810,520 C790,525 775,500 790,480Z"/>
<path d="M770,350 C790,330 830,330 850,350 L845,400 C820,420 780,410 765,390Z M975,470 C1000,450 1040,455 1050,480 L1040,525 C1010,540 980,525 970,505Z" fill="#000"/>
<circle cx="800" cy="365" r="9" fill="#fdfefc"/><circle cx="1005" cy="490" r="9" fill="#fdfefc"/>
<circle class="b" cx="1360" cy="296" r="18"/>
<!-- screw 22 blob -->
<path d="M815,650 C830,620 860,615 870,600 C890,590 910,610 920,630 C935,650 925,670 900,675 C880,680 860,690 840,685 C820,680 808,668 815,650Z" fill="#000" stroke="#000" stroke-width="3"/>
<!-- screw 13 -->
<path d="M920,905 C930,890 960,885 980,870 C990,850 1020,850 1035,870 C1045,890 1040,910 1020,915 L960,940 C935,945 915,925 920,905Z" fill="#000"/>
<circle cx="990" cy="880" r="10" fill="#fdfefc"/><circle cx="938" cy="915" r="8" fill="#fdfefc"/>
<!-- clip 14 -->
<path class="m" d="M895,940 C870,925 845,945 850,970 C855,995 885,1000 900,985"/>
</g>
<g id="xfanT" transform="translate(1130,2500) scale(0.33293)">
<!-- impeller 24 -->
<path class="k w" d="M760,420 C780,370 800,350 830,340 L1100,235 C1200,230 1320,380 1380,560 C1420,680 1410,780 1340,820 L1040,940 C960,900 860,780 800,620 C770,540 750,470 760,420Z"/>
<path d="M1100,235 C1200,230 1320,380 1380,560 C1420,680 1410,780 1340,820 L1310,800 C1360,760 1370,680 1340,580 C1290,420 1190,290 1100,270 Z" fill="#000"/>
<path class="h" d="M830,340 C900,330 980,420 1030,560 C1080,700 1080,860 1040,940"/>
<path class="h" d="M960,330 C1040,330 1150,440 1210,600 C1250,720 1250,820 1210,870" style="stroke-width:7"/>
<path class="k" d="M860,370 L1090,280 M890,420 L1130,320 M920,480 L1000,450 M950,560 L1020,530 M980,640 L1040,615 M1000,720 L1060,695 M1020,800 L1075,778 M1040,870 L1210,805 M1050,900 L1100,880"/>
<path class="k" d="M1230,640 L1370,590 M1240,700 L1385,650 M1245,760 L1380,710 M1220,840 L1340,790 M1200,560 L1340,510 M1170,480 L1300,430 M1130,400 L1250,350"/>
<path d="M870,360 L1000,310 L1010,340 L900,390 Z M900,440 L960,420 L980,470 L920,490Z M940,560 L1000,540 L1010,580 L950,600Z M1060,830 L1180,780 L1190,810 L1080,860Z M1080,700 L1160,670 L1170,720 L1090,750Z" fill="#000" opacity="0.9"/>
<path d="M1010,440 C1050,420 1110,480 1150,560 C1180,630 1190,700 1170,730 C1130,700 1070,630 1030,540 C1010,500 1000,460 1010,440Z" fill="#000"/>
<ellipse cx="1085" cy="585" rx="38" ry="48" fill="#fdfefc" stroke="#000" stroke-width="5" transform="rotate(-20 1085 585)"/>
<ellipse cx="1085" cy="585" rx="16" ry="22" fill="#fdfefc" stroke="#000" stroke-width="4" transform="rotate(-20 1085 585)"/>
<path d="M1020,900 L1200,860 L1180,900 L1040,950 Z" fill="#000"/>
<path class="k" d="M870,395 L1000,345 M905,455 L975,428 M935,525 L1005,498 M965,600 L1030,575 M990,680 L1050,655 M1010,760 L1068,738 M1030,835 L1085,815 M1150,300 L1260,260 M1190,350 L1290,312 M1230,420 L1330,385 M1260,500 L1360,462 M1280,580 L1385,545 M1290,660 L1395,625 M1290,740 L1395,700"/>
<path d="M1100,235 C1040,250 1010,290 1000,330 L1040,320 C1060,290 1080,270 1110,262 Z" fill="#000"/>
<path d="M820,360 C790,380 770,420 775,470 L810,440 C810,410 820,390 840,375 Z" fill="#000"/>
<!-- gasket 25 -->
<path d="M420,395 C600,375 820,515 925,720 C1015,900 1035,1120 975,1275 C945,1335 890,1355 845,1345 L800,1330 C880,1290 910,1180 900,1050 C890,880 820,700 720,580 C620,460 480,410 420,440 Z" fill="#000"/>
<path d="M420,395 C600,375 820,515 925,720 C1015,900 1035,1120 975,1275 C945,1335 890,1355 845,1345 L800,1330 C880,1290 910,1180 900,1050 C890,880 820,700 720,580 C620,460 480,410 420,440 Z" fill="url(#stw2)"/>
<path d="M420,395 C600,375 820,515 925,720 C1015,900 1035,1120 975,1275 C945,1335 890,1355 845,1345 L800,1330" fill="none" stroke="#000" stroke-width="6.5"/>
<path d="M420,395 L420,440" fill="none" stroke="#000" stroke-width="4"/>
<!-- cover 26 -->
<path class="k w" d="M250,800 L180,780 L95,860 L70,975 L500,1250 C600,1330 720,1360 800,1330 C880,1290 910,1180 900,1050 C890,880 820,700 720,580 C620,460 480,410 380,450 C280,500 230,650 250,800Z"/>
<path class="k" d="M250,800 C255,830 262,860 272,880"/>
<path class="k" d="M240,700 C230,600 280,500 380,450"/>
<ellipse class="h" cx="440" cy="950" rx="120" ry="172" transform="rotate(-22 440 950)"/>
<path class="m" d="M340,800 C360,780 400,770 440,790"/>
<path class="m" d="M290,640 C340,560 420,530 510,545"/>
<path class="m" d="M300,720 Q310,700 330,690 M340,690 C400,660 460,670 510,700"/>
<path class="m" d="M580,570 C660,620 730,700 770,790"/>
<path class="m" d="M530,650 C580,680 620,720 640,760"/>
<path class="m" d="M500,780 C560,820 610,890 630,960"/>
<path class="m" d="M690,790 C750,880 780,980 780,1080"/>
<path class="m" d="M810,820 C850,920 870,1020 860,1100"/>
<path class="m" d="M570,920 C600,980 620,1040 620,1090"/>
<path class="m" d="M680,1010 C690,1080 680,1140 650,1190"/>
<path class="m" d="M770,1150 C760,1220 720,1270 660,1290"/>
<path class="m" d="M840,1160 C830,1230 800,1280 750,1310"/>
<path class="m" d="M460,1195 Q540,1200 610,1180"/>
<path class="m" d="M620,1090 Q600,1150 560,1170"/>
<circle class="b" cx="445" cy="485" r="19"/><circle class="b" cx="770" cy="690" r="19"/><circle class="b" cx="430" cy="770" r="19"/>
<circle class="b" cx="270" cy="865" r="19"/><circle class="b" cx="590" cy="1055" r="19"/><circle class="b" cx="425" cy="1135" r="19"/>
<circle class="b" cx="890" cy="1130" r="19"/><circle class="b" cx="697" cy="1325" r="19"/>
<!-- clip 27 -->
<path class="k w" d="M530,1395 L600,1350 L640,1410 L565,1450 Z"/>
<path d="M555,1400 L595,1378 L612,1410 L575,1430Z" fill="#000"/>
</g>
<!-- 90_labels.svg -->
<g class="lbl">
<text x="1673" y="93">6</text>
<text x="1673" y="166">7</text>
<text class="u" x="1674" y="239">8</text>
<text x="1779" y="167">9</text>
<text class="u" x="1402" y="190">5</text>
<text x="1354" y="242">4</text>
<text class="u" x="1295" y="273">3</text>
<text class="u" x="1240" y="315">2</text>
<text x="1460" y="978">17</text>
<text x="1415" y="1046">18</text>
<text x="1398" y="1121">19</text>
<text x="1663" y="776">10</text>
<text x="1815" y="784">11</text>
<text class="u" x="1918" y="746">3</text>
<text x="1969" y="744">4</text>
<text x="2113" y="973">12</text>
<text x="2113" y="1052">13</text>
<text x="2113" y="1128">14</text>
<text x="2113" y="1207">15</text>
<text x="2214" y="1090">16</text>
<text class="u" x="996" y="1190">32</text>
<text class="u" x="1011" y="1273">3</text>
<text class="u" x="1268" y="1388">28</text>
<text class="u" x="1268" y="1459">29</text>
<text x="1088" y="1466">31</text>
<text x="1080" y="1559">30</text>
<text class="u" x="1409" y="1388">2</text>
<text class="u" x="1478" y="1388">3</text>
<text x="2019" y="2404">21</text>
<text x="1989" y="2468">22</text>
<text x="1648" y="2475">20</text>
<text class="u" x="1861" y="2615">23</text>
<text x="1839" y="2680">13</text>
<text x="1784" y="2782">14</text>
<text x="1642" y="2847">24</text>
<text class="u" x="1505" y="2889">25</text>
<text class="u" x="1497" y="2957">26</text>
<text class="u" x="1165" y="2962">27</text>
<text x="620" y="1296">1</text>
<text x="566" y="670">4</text>
<text class="u" x="656" y="670">3</text>
<text class="u" x="758" y="670">2</text>
</g>
<g id="brk9">
<path class="n" d="M1685,44 L1724,44 L1724,257 L1685,257 M1724,148 L1770,148"/>
</g>
<g id="leaders2">
<path class="n" d="M1881,2467 L2009,2392"/>
<path class="n" d="M1756,2612 L1976,2462"/>
<path class="n" d="M1616,2500 L1654,2482"/>
<path class="n" d="M1592,2695 L1852,2592"/>
<path class="n" d="M1794,2692 L1839,2672"/>
<path class="n" d="M1746,2725 L1781,2765"/>
<path class="n" d="M1470,2834 L1642,2827"/>
<path class="n" d="M1470,2859 L1505,2872"/>
<path class="n" d="M1410,2943 L1495,2943"/>
<path class="n" d="M1222,2956 L1315,2964"/>
<path class="t" d="M1787,1600 L1684,2312 L1245,2617"/>
<path class="t" d="M1787,1600 L1824,2275 L1981,2275"/>
</g>
<text class="cap" y="3061" font-size="41" stroke="#000" stroke-width="1.8" stroke-linejoin="round"><tspan x="225" textLength="155" lengthAdjust="spacingAndGlyphs">Пульт</tspan> <tspan x="403" textLength="330" lengthAdjust="spacingAndGlyphs">управления,</tspan> <tspan x="759" textLength="159" lengthAdjust="spacingAndGlyphs">бачок</tspan> <tspan x="936" textLength="309" lengthAdjust="spacingAndGlyphs">топливный,</tspan> <tspan x="1273" textLength="525" lengthAdjust="spacingAndGlyphs">электровентилятор</tspan> <tspan x="1818" textLength="396" lengthAdjust="spacingAndGlyphs">подогревателя</tspan></text>
<!-- 95_wm.svg -->
<g id="watermark" style="mix-blend-mode:multiply" fill="none" stroke="#939393" stroke-width="2.8" stroke-linejoin="round">
<circle cx="626.2" cy="1530.4" r="133.5"/>
<circle cx="626.2" cy="1530.4" r="92"/>
<path d="M514,1623.6 A122.1,122.1 0 0 0 738.5,1623.6 A112.6,112.6 0 0 1 514,1623.6 Z"/>
<path d="M545.7,1543.1 A88.8,88.8 0 0 1 708,1543.1 L694,1577 A73.9,73.9 0 0 0 558.4,1577 Z"/>
<text y="1636.6" font-family="'Liberation Sans',Arial,sans-serif" font-size="266" stroke-width="2.6"><tspan x="777.9" textLength="181.3" lengthAdjust="spacingAndGlyphs">б</tspan><tspan x="957.5" textLength="161.3" lengthAdjust="spacingAndGlyphs">е</tspan><tspan x="1103.1" textLength="169.8" lengthAdjust="spacingAndGlyphs">л</tspan><tspan x="1236.8" textLength="161.2" lengthAdjust="spacingAndGlyphs">а</tspan><tspan x="1400.4" textLength="119.3" lengthAdjust="spacingAndGlyphs">г</tspan><tspan x="1502.0" textLength="182.9" lengthAdjust="spacingAndGlyphs">р</tspan><tspan x="1668.7" textLength="176.8" lengthAdjust="spacingAndGlyphs">о</tspan></text>
<text font-family="'Liberation Sans',Arial,sans-serif" font-weight="bold" font-size="55" y="1710.5" stroke-width="2.8"><tspan x="819" textLength="227" lengthAdjust="spacing">ГРУППА</tspan> <tspan x="1094" textLength="357" lengthAdjust="spacing">КОМПАНИЙ</tspan></text>
</g>
</svg>
</body></html>
